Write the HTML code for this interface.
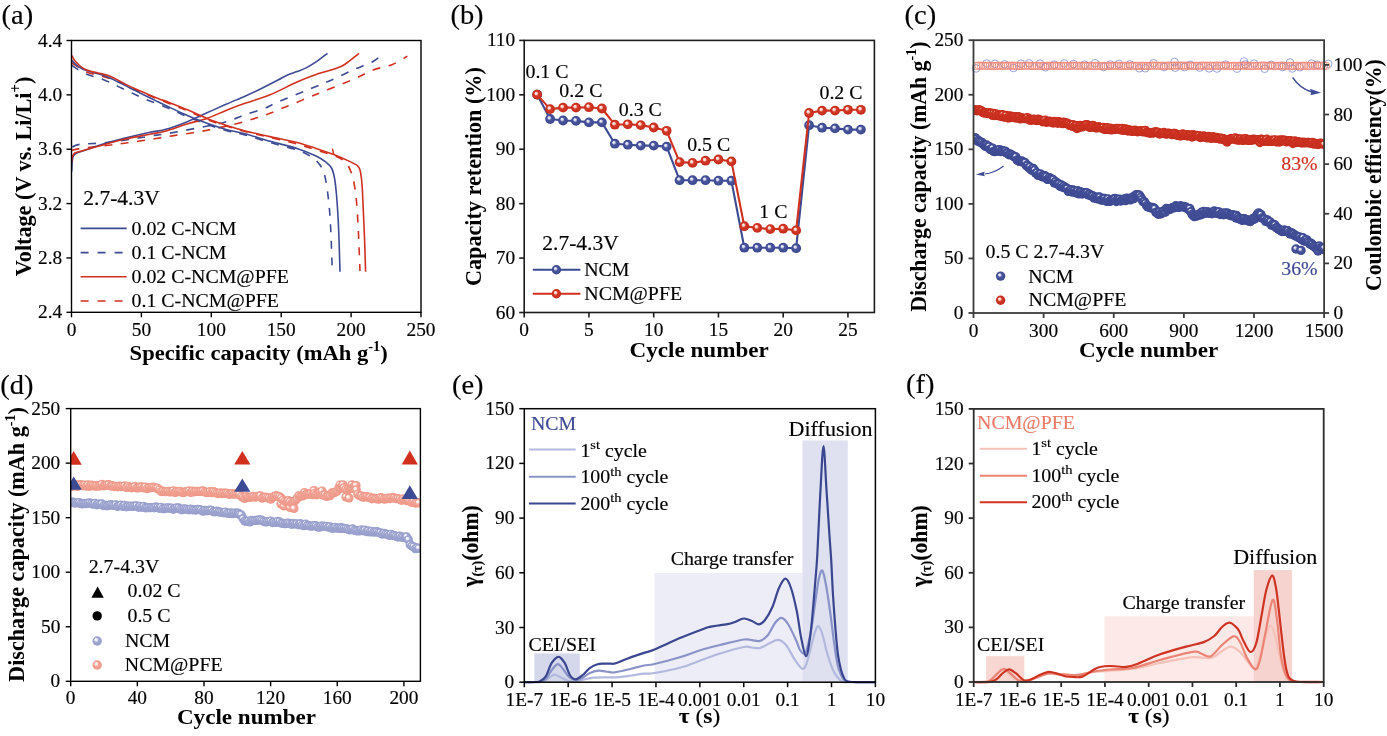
<!DOCTYPE html>
<html><head><meta charset="utf-8"><title>Figure</title>
<style>html,body{margin:0;padding:0;background:#fff;}svg{display:block;}text{font-family:'Liberation Serif','Times New Roman',serif;}</style>
</head><body>
<svg width="1387" height="736" viewBox="0 0 1387 736" font-family="'Liberation Serif','Times New Roman',serif">
<rect width="1387" height="736" fill="#fff"/>
<defs>
<radialGradient id="gb" cx="0.5" cy="0.5" r="0.5" fx="0.36" fy="0.33"><stop offset="0" stop-color="#ffffff"/><stop offset="0.25" stop-color="#c9cde6"/><stop offset="0.45" stop-color="#4a569c"/><stop offset="1" stop-color="#3a4690"/></radialGradient>
<radialGradient id="gr" cx="0.5" cy="0.5" r="0.5" fx="0.36" fy="0.33"><stop offset="0" stop-color="#ffffff"/><stop offset="0.28" stop-color="#f2c4bc"/><stop offset="0.45" stop-color="#d63a28"/><stop offset="1" stop-color="#c42a1a"/></radialGradient>
<radialGradient id="glb" cx="0.5" cy="0.5" r="0.5" fx="0.32" fy="0.3"><stop offset="0" stop-color="#ffffff"/><stop offset="0.3" stop-color="#e4e6f4"/><stop offset="0.5" stop-color="#a2a8d2"/><stop offset="1" stop-color="#969dcb"/></radialGradient>
<radialGradient id="glr" cx="0.5" cy="0.5" r="0.5" fx="0.32" fy="0.3"><stop offset="0" stop-color="#ffffff"/><stop offset="0.3" stop-color="#fbe3df"/><stop offset="0.5" stop-color="#f2a597"/><stop offset="1" stop-color="#ee9686"/></radialGradient>
<marker id="ah" markerWidth="8" markerHeight="8" refX="6" refY="4" orient="auto" markerUnits="userSpaceOnUse"><path d="M0,0.8 L8,4 L0,7.2 L1.5,4 Z" fill="#3d4a94"/></marker>
</defs>
<text transform="translate(1.60 23.80) scale(1.075 1)" font-size="26.5" stroke="#000" stroke-width="0.15" text-anchor="start" fill="#000">(a)</text>
<path d="M72.20,147.00 C73.55,146.55 75.00,145.00 80.30,144.30 C85.60,143.60 95.28,143.68 104.00,142.80 C112.72,141.92 124.93,140.12 132.60,139.00 C140.27,137.88 143.93,137.05 150.00,136.10 C156.07,135.15 161.08,134.65 169.00,133.30 C176.92,131.95 189.58,129.52 197.50,128.00 C205.42,126.48 210.95,125.47 216.50,124.20 C222.05,122.93 226.05,121.98 230.80,120.40 C235.55,118.82 239.47,116.68 245.00,114.70 C250.53,112.72 258.50,110.62 264.00,108.50 C269.50,106.38 269.33,105.67 278.00,102.00 C286.67,98.33 306.50,90.42 316.00,86.50 C325.50,82.58 328.67,81.33 335.00,78.50 C341.33,75.67 347.67,72.33 354.00,69.50 C360.33,66.67 368.07,64.20 373.00,61.50 C377.93,58.80 381.83,54.67 383.60,53.30" fill="none" stroke="#3d4a94" stroke-width="1.6" stroke-dasharray="8 8.5"/>
<path d="M71.70,150.40 C73.13,150.08 74.12,149.37 80.30,148.50 C86.48,147.63 100.88,146.15 108.80,145.20 C116.72,144.25 120.13,143.88 127.80,142.80 C135.47,141.72 147.13,139.90 154.80,138.70 C162.47,137.50 167.47,136.58 173.80,135.60 C180.13,134.62 186.93,133.75 192.80,132.80 C198.67,131.85 203.80,130.93 209.00,129.90 C214.20,128.87 218.78,127.78 224.00,126.60 C229.22,125.42 234.73,124.30 240.30,122.80 C245.87,121.30 252.45,119.18 257.40,117.60 C262.35,116.02 266.57,114.57 270.00,113.30 C273.43,112.03 270.33,113.13 278.00,110.00 C285.67,106.87 303.33,99.67 316.00,94.50 C328.67,89.33 344.50,83.08 354.00,79.00 C363.50,74.92 366.67,72.38 373.00,70.00 C379.33,67.62 386.27,67.00 392.00,64.70 C397.73,62.40 404.83,57.62 407.40,56.20" fill="none" stroke="#d1301f" stroke-width="1.6" stroke-dasharray="8 8.5"/>
<path d="M72.10,65.20 C72.53,65.57 72.27,65.90 74.70,67.40 C77.13,68.90 81.98,72.20 86.70,74.20 C91.42,76.20 97.90,77.42 103.00,79.40 C108.10,81.38 112.55,83.87 117.30,86.10 C122.05,88.33 126.63,90.55 131.50,92.80 C136.37,95.05 140.25,96.98 146.50,99.60 C152.75,102.22 162.08,105.60 169.00,108.50 C175.92,111.40 181.67,114.33 188.00,117.00 C194.33,119.67 200.67,122.25 207.00,124.50 C213.33,126.75 219.67,128.75 226.00,130.50 C232.33,132.25 237.67,133.00 245.00,135.00 C252.33,137.00 261.33,140.00 270.00,142.50 C278.67,145.00 290.33,147.75 297.00,150.00 C303.67,152.25 306.50,153.92 310.00,156.00 C313.50,158.08 315.72,159.83 318.00,162.50 C320.28,165.17 322.20,167.75 323.70,172.00 C325.20,176.25 326.03,181.67 327.00,188.00 C327.97,194.33 328.83,202.17 329.50,210.00 C330.17,217.83 330.53,224.70 331.00,235.00 C331.47,245.30 332.08,265.67 332.30,271.80" fill="none" stroke="#3d4a94" stroke-width="1.6" stroke-dasharray="8 8.5"/>
<path d="M72.10,63.00 C74.53,64.48 81.55,69.67 86.70,71.90 C91.85,74.13 98.02,74.90 103.00,76.40 C107.98,77.90 112.10,79.15 116.60,80.90 C121.10,82.65 125.65,84.92 130.00,86.90 C134.35,88.88 136.20,90.03 142.70,92.80 C149.20,95.57 161.45,100.47 169.00,103.50 C176.55,106.53 181.67,108.33 188.00,111.00 C194.33,113.67 200.67,117.00 207.00,119.50 C213.33,122.00 219.67,124.00 226.00,126.00 C232.33,128.00 237.67,129.58 245.00,131.50 C252.33,133.42 261.33,135.42 270.00,137.50 C278.67,139.58 289.33,141.92 297.00,144.00 C304.67,146.08 309.67,148.00 316.00,150.00 C322.33,152.00 330.42,154.25 335.00,156.00 C339.58,157.75 341.25,158.75 343.50,160.50 C345.75,162.25 346.98,163.80 348.50,166.50 C350.02,169.20 351.43,172.45 352.60,176.70 C353.77,180.95 354.77,186.78 355.50,192.00 C356.23,197.22 356.53,201.67 357.00,208.00 C357.47,214.33 357.97,223.67 358.30,230.00 C358.63,236.33 358.72,239.17 359.00,246.00 C359.28,252.83 359.83,266.83 360.00,271.00" fill="none" stroke="#d1301f" stroke-width="1.6" stroke-dasharray="8 8.5"/>
<path d="M71.70,171.40 C71.77,170.00 71.92,165.32 72.10,163.00 C72.28,160.68 72.40,158.92 72.80,157.50 C73.20,156.08 73.63,155.33 74.50,154.50 C75.37,153.67 76.25,153.20 78.00,152.50 C79.75,151.80 80.67,151.75 85.00,150.30 C89.33,148.85 97.67,145.75 104.00,143.80 C110.33,141.85 115.33,140.52 123.00,138.60 C130.67,136.68 143.00,133.80 150.00,132.30 C157.00,130.80 158.67,131.42 165.00,129.60 C171.33,127.78 181.00,124.20 188.00,121.40 C195.00,118.60 200.67,115.65 207.00,112.80 C213.33,109.95 219.67,107.07 226.00,104.30 C232.33,101.53 239.60,98.58 245.00,96.20 C250.40,93.82 252.90,92.70 258.40,90.00 C263.90,87.30 273.13,82.50 278.00,80.00 C282.87,77.50 284.43,76.40 287.60,75.00 C290.77,73.60 293.83,72.83 297.00,71.60 C300.17,70.37 303.43,69.22 306.60,67.60 C309.77,65.98 312.52,64.28 316.00,61.90 C319.48,59.52 325.58,54.73 327.50,53.30" fill="none" stroke="#3d4a94" stroke-width="1.6"/>
<path d="M71.70,161.90 C71.80,161.08 72.00,158.23 72.30,157.00 C72.60,155.77 72.97,155.20 73.50,154.50 C74.03,153.80 73.58,153.55 75.50,152.80 C77.42,152.05 80.25,151.35 85.00,150.00 C89.75,148.65 97.67,146.45 104.00,144.70 C110.33,142.95 115.33,141.25 123.00,139.50 C130.67,137.75 143.00,135.57 150.00,134.20 C157.00,132.83 158.67,133.05 165.00,131.30 C171.33,129.55 181.00,125.83 188.00,123.70 C195.00,121.57 200.67,120.72 207.00,118.50 C213.33,116.28 219.67,112.93 226.00,110.40 C232.33,107.87 237.67,105.90 245.00,103.30 C252.33,100.70 261.33,98.35 270.00,94.80 C278.67,91.25 289.33,85.38 297.00,82.00 C304.67,78.62 309.67,76.70 316.00,74.50 C322.33,72.30 330.23,70.47 335.00,68.80 C339.77,67.13 340.60,67.08 344.60,64.50 C348.60,61.92 356.60,55.17 359.00,53.30" fill="none" stroke="#d1301f" stroke-width="1.6"/>
<path d="M71.70,60.00 C72.33,60.73 73.62,62.85 75.50,64.40 C77.38,65.95 79.27,67.73 83.00,69.30 C86.73,70.87 93.80,72.50 97.90,73.80 C102.00,75.10 103.87,75.55 107.60,77.10 C111.33,78.65 115.68,80.85 120.30,83.10 C124.92,85.35 130.32,88.12 135.30,90.60 C140.28,93.08 146.42,96.13 150.20,98.00 C153.98,99.87 154.87,100.28 158.00,101.80 C161.13,103.32 164.00,104.78 169.00,107.10 C174.00,109.42 181.67,113.00 188.00,115.70 C194.33,118.40 200.67,121.02 207.00,123.30 C213.33,125.58 219.67,127.67 226.00,129.40 C232.33,131.13 237.67,131.72 245.00,133.70 C252.33,135.68 261.33,138.85 270.00,141.30 C278.67,143.75 289.33,145.95 297.00,148.40 C304.67,150.85 311.23,153.77 316.00,156.00 C320.77,158.23 323.02,159.80 325.60,161.80 C328.18,163.80 330.02,165.30 331.50,168.00 C332.98,170.70 333.67,173.50 334.50,178.00 C335.33,182.50 335.88,188.00 336.50,195.00 C337.12,202.00 337.75,211.67 338.20,220.00 C338.65,228.33 338.90,236.37 339.20,245.00 C339.50,253.63 339.87,267.33 340.00,271.80" fill="none" stroke="#3d4a94" stroke-width="1.6"/>
<path d="M71.70,55.50 C72.33,56.50 73.62,59.38 75.50,61.50 C77.38,63.62 80.52,66.58 83.00,68.20 C85.48,69.82 87.92,70.40 90.40,71.20 C92.88,72.00 95.03,72.32 97.90,73.00 C100.77,73.68 104.48,74.23 107.60,75.30 C110.72,76.37 113.23,77.72 116.60,79.40 C119.97,81.08 123.45,83.28 127.80,85.40 C132.15,87.52 137.67,89.92 142.70,92.10 C147.73,94.28 153.62,96.78 158.00,98.50 C162.38,100.22 164.00,100.48 169.00,102.40 C174.00,104.32 181.67,107.32 188.00,110.00 C194.33,112.68 200.67,115.97 207.00,118.50 C213.33,121.03 219.67,123.13 226.00,125.20 C232.33,127.27 237.67,129.00 245.00,130.90 C252.33,132.80 261.33,134.67 270.00,136.60 C278.67,138.53 289.33,140.53 297.00,142.50 C304.67,144.47 309.67,146.32 316.00,148.40 C322.33,150.48 329.33,152.80 335.00,155.00 C340.67,157.20 346.23,159.80 350.00,161.60 C353.77,163.40 355.93,164.40 357.60,165.80 C359.27,167.20 359.37,167.97 360.00,170.00 C360.63,172.03 361.00,174.67 361.40,178.00 C361.80,181.33 362.05,183.83 362.40,190.00 C362.75,196.17 363.13,206.67 363.50,215.00 C363.87,223.33 364.25,230.53 364.60,240.00 C364.95,249.47 365.43,266.50 365.60,271.80" fill="none" stroke="#d1301f" stroke-width="1.6"/>
<path d="M332.4,148.6 L333.6,154" stroke="#d1301f" stroke-width="1.4"/>
<rect x="71.50" y="40.50" width="349.50" height="271.80" fill="none" stroke="#000" stroke-width="1.4"/>
<line x1="71.50" y1="312.30" x2="71.50" y2="317.30" stroke="#000" stroke-width="1.4"/>
<text transform="translate(71.50 335.80) scale(1.075 1)" font-size="18" stroke="#000" stroke-width="0.15" text-anchor="middle" fill="#000">0</text>
<line x1="141.40" y1="312.30" x2="141.40" y2="317.30" stroke="#000" stroke-width="1.4"/>
<text transform="translate(141.40 335.80) scale(1.075 1)" font-size="18" stroke="#000" stroke-width="0.15" text-anchor="middle" fill="#000">50</text>
<line x1="211.30" y1="312.30" x2="211.30" y2="317.30" stroke="#000" stroke-width="1.4"/>
<text transform="translate(211.30 335.80) scale(1.075 1)" font-size="18" stroke="#000" stroke-width="0.15" text-anchor="middle" fill="#000">100</text>
<line x1="281.20" y1="312.30" x2="281.20" y2="317.30" stroke="#000" stroke-width="1.4"/>
<text transform="translate(281.20 335.80) scale(1.075 1)" font-size="18" stroke="#000" stroke-width="0.15" text-anchor="middle" fill="#000">150</text>
<line x1="351.10" y1="312.30" x2="351.10" y2="317.30" stroke="#000" stroke-width="1.4"/>
<text transform="translate(351.10 335.80) scale(1.075 1)" font-size="18" stroke="#000" stroke-width="0.15" text-anchor="middle" fill="#000">200</text>
<line x1="421.00" y1="312.30" x2="421.00" y2="317.30" stroke="#000" stroke-width="1.4"/>
<text transform="translate(421.00 335.80) scale(1.075 1)" font-size="18" stroke="#000" stroke-width="0.15" text-anchor="middle" fill="#000">250</text>
<line x1="66.50" y1="40.50" x2="71.50" y2="40.50" stroke="#000" stroke-width="1.4"/>
<text transform="translate(62.20 46.50) scale(1.075 1)" font-size="18" stroke="#000" stroke-width="0.15" text-anchor="end" fill="#000">4.4</text>
<line x1="66.50" y1="94.86" x2="71.50" y2="94.86" stroke="#000" stroke-width="1.4"/>
<text transform="translate(62.20 100.86) scale(1.075 1)" font-size="18" stroke="#000" stroke-width="0.15" text-anchor="end" fill="#000">4.0</text>
<line x1="66.50" y1="149.22" x2="71.50" y2="149.22" stroke="#000" stroke-width="1.4"/>
<text transform="translate(62.20 155.22) scale(1.075 1)" font-size="18" stroke="#000" stroke-width="0.15" text-anchor="end" fill="#000">3.6</text>
<line x1="66.50" y1="203.58" x2="71.50" y2="203.58" stroke="#000" stroke-width="1.4"/>
<text transform="translate(62.20 209.58) scale(1.075 1)" font-size="18" stroke="#000" stroke-width="0.15" text-anchor="end" fill="#000">3.2</text>
<line x1="66.50" y1="257.94" x2="71.50" y2="257.94" stroke="#000" stroke-width="1.4"/>
<text transform="translate(62.20 263.94) scale(1.075 1)" font-size="18" stroke="#000" stroke-width="0.15" text-anchor="end" fill="#000">2.8</text>
<line x1="66.50" y1="312.30" x2="71.50" y2="312.30" stroke="#000" stroke-width="1.4"/>
<text transform="translate(62.20 318.30) scale(1.075 1)" font-size="18" stroke="#000" stroke-width="0.15" text-anchor="end" fill="#000">2.4</text>
<text transform="translate(258.70 359.60) scale(1.035 1)" font-size="21.8" font-weight="bold" text-anchor="middle" fill="#000">Specific capacity (mAh g<tspan font-size="14" dy="-9">-1</tspan><tspan dy="9">)</tspan></text>
<text transform="translate(30.80 176.40) scale(1.06 1) rotate(-90)" font-size="22.2" font-weight="bold" text-anchor="middle" fill="#000">Voltage (V vs. Li/Li<tspan font-size="15" dy="-9">+</tspan><tspan dy="9">)</tspan></text>
<text transform="translate(121.50 205.00) scale(1.075 1)" font-size="20" stroke="#000" stroke-width="0.15" text-anchor="middle" fill="#000">2.7-4.3V</text>
<line x1="80.6" y1="228.4" x2="126.7" y2="228.4" stroke="#3d4a94" stroke-width="1.6"/>
<text transform="translate(131.50 234.60) scale(1.075 1)" font-size="18.5" stroke="#000" stroke-width="0.15" text-anchor="start" fill="#000">0.02 C-NCM</text>
<line x1="80.6" y1="252.6" x2="126.7" y2="252.6" stroke="#3d4a94" stroke-width="1.6" stroke-dasharray="8 9"/>
<text transform="translate(131.50 258.80) scale(1.075 1)" font-size="18.5" stroke="#000" stroke-width="0.15" text-anchor="start" fill="#000">0.1 C-NCM</text>
<line x1="80.6" y1="276.8" x2="126.7" y2="276.8" stroke="#d1301f" stroke-width="1.6"/>
<text transform="translate(131.50 283.00) scale(1.075 1)" font-size="18.5" stroke="#000" stroke-width="0.15" text-anchor="start" fill="#000">0.02 C-NCM@PFE</text>
<line x1="80.6" y1="301.0" x2="126.7" y2="301.0" stroke="#d1301f" stroke-width="1.6" stroke-dasharray="8 9"/>
<text transform="translate(131.50 307.20) scale(1.075 1)" font-size="18.5" stroke="#000" stroke-width="0.15" text-anchor="start" fill="#000">0.1 C-NCM@PFE</text>
<text transform="translate(450.40 23.80) scale(1.075 1)" font-size="26.5" stroke="#000" stroke-width="0.15" text-anchor="start" fill="#000">(b)</text>
<path d="M537.15,94.60 L550.10,119.00 L563.05,120.50 L576.00,120.90 L588.95,122.40 L601.90,122.40 L614.85,143.70 L627.80,144.70 L640.75,145.60 L653.70,145.60 L666.65,146.60 L679.60,180.20 L692.55,180.20 L705.50,180.20 L718.45,180.70 L731.40,180.70 L744.35,247.70 L757.30,247.70 L770.25,247.70 L783.20,247.70 L796.15,248.20 L809.10,125.20 L822.05,127.70 L835.00,128.40 L847.95,129.60 L860.90,129.60" fill="none" stroke="#3d4a94" stroke-width="2.1" stroke-linejoin="round"/>
<circle cx="537.15" cy="94.60" r="4.9" fill="url(#gb)"/>
<circle cx="550.10" cy="119.00" r="4.9" fill="url(#gb)"/>
<circle cx="563.05" cy="120.50" r="4.9" fill="url(#gb)"/>
<circle cx="576.00" cy="120.90" r="4.9" fill="url(#gb)"/>
<circle cx="588.95" cy="122.40" r="4.9" fill="url(#gb)"/>
<circle cx="601.90" cy="122.40" r="4.9" fill="url(#gb)"/>
<circle cx="614.85" cy="143.70" r="4.9" fill="url(#gb)"/>
<circle cx="627.80" cy="144.70" r="4.9" fill="url(#gb)"/>
<circle cx="640.75" cy="145.60" r="4.9" fill="url(#gb)"/>
<circle cx="653.70" cy="145.60" r="4.9" fill="url(#gb)"/>
<circle cx="666.65" cy="146.60" r="4.9" fill="url(#gb)"/>
<circle cx="679.60" cy="180.20" r="4.9" fill="url(#gb)"/>
<circle cx="692.55" cy="180.20" r="4.9" fill="url(#gb)"/>
<circle cx="705.50" cy="180.20" r="4.9" fill="url(#gb)"/>
<circle cx="718.45" cy="180.70" r="4.9" fill="url(#gb)"/>
<circle cx="731.40" cy="180.70" r="4.9" fill="url(#gb)"/>
<circle cx="744.35" cy="247.70" r="4.9" fill="url(#gb)"/>
<circle cx="757.30" cy="247.70" r="4.9" fill="url(#gb)"/>
<circle cx="770.25" cy="247.70" r="4.9" fill="url(#gb)"/>
<circle cx="783.20" cy="247.70" r="4.9" fill="url(#gb)"/>
<circle cx="796.15" cy="248.20" r="4.9" fill="url(#gb)"/>
<circle cx="809.10" cy="125.20" r="4.9" fill="url(#gb)"/>
<circle cx="822.05" cy="127.70" r="4.9" fill="url(#gb)"/>
<circle cx="835.00" cy="128.40" r="4.9" fill="url(#gb)"/>
<circle cx="847.95" cy="129.60" r="4.9" fill="url(#gb)"/>
<circle cx="860.90" cy="129.60" r="4.9" fill="url(#gb)"/>
<path d="M537.15,94.60 L550.10,109.10 L563.05,107.60 L576.00,107.60 L588.95,107.20 L601.90,108.50 L614.85,124.70 L627.80,124.30 L640.75,125.10 L653.70,127.50 L666.65,130.80 L679.60,162.10 L692.55,162.90 L705.50,160.70 L718.45,159.50 L731.40,161.40 L744.35,226.20 L757.30,227.90 L770.25,229.10 L783.20,228.70 L796.15,230.40 L809.10,113.00 L822.05,110.60 L835.00,110.60 L847.95,109.80 L860.90,109.80" fill="none" stroke="#d1301f" stroke-width="2.1" stroke-linejoin="round"/>
<circle cx="537.15" cy="94.60" r="4.9" fill="url(#gr)"/>
<circle cx="550.10" cy="109.10" r="4.9" fill="url(#gr)"/>
<circle cx="563.05" cy="107.60" r="4.9" fill="url(#gr)"/>
<circle cx="576.00" cy="107.60" r="4.9" fill="url(#gr)"/>
<circle cx="588.95" cy="107.20" r="4.9" fill="url(#gr)"/>
<circle cx="601.90" cy="108.50" r="4.9" fill="url(#gr)"/>
<circle cx="614.85" cy="124.70" r="4.9" fill="url(#gr)"/>
<circle cx="627.80" cy="124.30" r="4.9" fill="url(#gr)"/>
<circle cx="640.75" cy="125.10" r="4.9" fill="url(#gr)"/>
<circle cx="653.70" cy="127.50" r="4.9" fill="url(#gr)"/>
<circle cx="666.65" cy="130.80" r="4.9" fill="url(#gr)"/>
<circle cx="679.60" cy="162.10" r="4.9" fill="url(#gr)"/>
<circle cx="692.55" cy="162.90" r="4.9" fill="url(#gr)"/>
<circle cx="705.50" cy="160.70" r="4.9" fill="url(#gr)"/>
<circle cx="718.45" cy="159.50" r="4.9" fill="url(#gr)"/>
<circle cx="731.40" cy="161.40" r="4.9" fill="url(#gr)"/>
<circle cx="744.35" cy="226.20" r="4.9" fill="url(#gr)"/>
<circle cx="757.30" cy="227.90" r="4.9" fill="url(#gr)"/>
<circle cx="770.25" cy="229.10" r="4.9" fill="url(#gr)"/>
<circle cx="783.20" cy="228.70" r="4.9" fill="url(#gr)"/>
<circle cx="796.15" cy="230.40" r="4.9" fill="url(#gr)"/>
<circle cx="809.10" cy="113.00" r="4.9" fill="url(#gr)"/>
<circle cx="822.05" cy="110.60" r="4.9" fill="url(#gr)"/>
<circle cx="835.00" cy="110.60" r="4.9" fill="url(#gr)"/>
<circle cx="847.95" cy="109.80" r="4.9" fill="url(#gr)"/>
<circle cx="860.90" cy="109.80" r="4.9" fill="url(#gr)"/>
<rect x="524.20" y="40.40" width="350.20" height="272.10" fill="none" stroke="#1c1c1c" stroke-width="1.6"/>
<line x1="524.20" y1="312.50" x2="524.20" y2="317.50" stroke="#1c1c1c" stroke-width="1.6"/>
<text transform="translate(524.20 335.80) scale(1.075 1)" font-size="18" stroke="#000" stroke-width="0.15" text-anchor="middle" fill="#000">0</text>
<line x1="588.95" y1="312.50" x2="588.95" y2="317.50" stroke="#1c1c1c" stroke-width="1.6"/>
<text transform="translate(588.95 335.80) scale(1.075 1)" font-size="18" stroke="#000" stroke-width="0.15" text-anchor="middle" fill="#000">5</text>
<line x1="653.70" y1="312.50" x2="653.70" y2="317.50" stroke="#1c1c1c" stroke-width="1.6"/>
<text transform="translate(653.70 335.80) scale(1.075 1)" font-size="18" stroke="#000" stroke-width="0.15" text-anchor="middle" fill="#000">10</text>
<line x1="718.45" y1="312.50" x2="718.45" y2="317.50" stroke="#1c1c1c" stroke-width="1.6"/>
<text transform="translate(718.45 335.80) scale(1.075 1)" font-size="18" stroke="#000" stroke-width="0.15" text-anchor="middle" fill="#000">15</text>
<line x1="783.20" y1="312.50" x2="783.20" y2="317.50" stroke="#1c1c1c" stroke-width="1.6"/>
<text transform="translate(783.20 335.80) scale(1.075 1)" font-size="18" stroke="#000" stroke-width="0.15" text-anchor="middle" fill="#000">20</text>
<line x1="847.95" y1="312.50" x2="847.95" y2="317.50" stroke="#1c1c1c" stroke-width="1.6"/>
<text transform="translate(847.95 335.80) scale(1.075 1)" font-size="18" stroke="#000" stroke-width="0.15" text-anchor="middle" fill="#000">25</text>
<line x1="519.20" y1="40.40" x2="524.20" y2="40.40" stroke="#1c1c1c" stroke-width="1.6"/>
<text transform="translate(515.20 46.40) scale(1.075 1)" font-size="18" stroke="#000" stroke-width="0.15" text-anchor="end" fill="#000">110</text>
<line x1="519.20" y1="94.82" x2="524.20" y2="94.82" stroke="#1c1c1c" stroke-width="1.6"/>
<text transform="translate(515.20 100.82) scale(1.075 1)" font-size="18" stroke="#000" stroke-width="0.15" text-anchor="end" fill="#000">100</text>
<line x1="519.20" y1="149.24" x2="524.20" y2="149.24" stroke="#1c1c1c" stroke-width="1.6"/>
<text transform="translate(515.20 155.24) scale(1.075 1)" font-size="18" stroke="#000" stroke-width="0.15" text-anchor="end" fill="#000">90</text>
<line x1="519.20" y1="203.66" x2="524.20" y2="203.66" stroke="#1c1c1c" stroke-width="1.6"/>
<text transform="translate(515.20 209.66) scale(1.075 1)" font-size="18" stroke="#000" stroke-width="0.15" text-anchor="end" fill="#000">80</text>
<line x1="519.20" y1="258.08" x2="524.20" y2="258.08" stroke="#1c1c1c" stroke-width="1.6"/>
<text transform="translate(515.20 264.08) scale(1.075 1)" font-size="18" stroke="#000" stroke-width="0.15" text-anchor="end" fill="#000">70</text>
<line x1="519.20" y1="312.50" x2="524.20" y2="312.50" stroke="#1c1c1c" stroke-width="1.6"/>
<text transform="translate(515.20 318.50) scale(1.075 1)" font-size="18" stroke="#000" stroke-width="0.15" text-anchor="end" fill="#000">60</text>
<text transform="translate(699.20 357.00) scale(1.06 1)" font-size="21.8" font-weight="bold" text-anchor="middle" fill="#000">Cycle number</text>
<text transform="translate(481.00 176.60) scale(1.06 1) rotate(-90)" font-size="22.2" font-weight="bold" text-anchor="middle" fill="#000">Capacity retention (%)</text>
<text transform="translate(547.00 77.50) scale(1.075 1)" font-size="18.5" stroke="#000" stroke-width="0.15" text-anchor="middle" fill="#000">0.1 C</text>
<text transform="translate(580.90 96.50) scale(1.075 1)" font-size="18.5" stroke="#000" stroke-width="0.15" text-anchor="middle" fill="#000">0.2 C</text>
<text transform="translate(640.30 116.10) scale(1.075 1)" font-size="18.5" stroke="#000" stroke-width="0.15" text-anchor="middle" fill="#000">0.3 C</text>
<text transform="translate(708.70 150.90) scale(1.075 1)" font-size="18.5" stroke="#000" stroke-width="0.15" text-anchor="middle" fill="#000">0.5 C</text>
<text transform="translate(773.30 217.70) scale(1.075 1)" font-size="18.5" stroke="#000" stroke-width="0.15" text-anchor="middle" fill="#000">1 C</text>
<text transform="translate(841.00 99.10) scale(1.075 1)" font-size="18.5" stroke="#000" stroke-width="0.15" text-anchor="middle" fill="#000">0.2 C</text>
<text transform="translate(580.50 249.70) scale(1.075 1)" font-size="20" stroke="#000" stroke-width="0.15" text-anchor="middle" fill="#000">2.7-4.3V</text>
<line x1="532.8" y1="269.8" x2="580.4" y2="269.8" stroke="#3d4a94" stroke-width="1.9"/>
<circle cx="556.40" cy="269.80" r="4.7" fill="url(#gb)"/>
<text transform="translate(606.80 275.80) scale(1.075 1)" font-size="18.5" stroke="#000" stroke-width="0.15" text-anchor="middle" fill="#000">NCM</text>
<line x1="532.8" y1="293.8" x2="580.4" y2="293.8" stroke="#d1301f" stroke-width="1.9"/>
<circle cx="556.40" cy="293.80" r="4.7" fill="url(#gr)"/>
<text transform="translate(633.20 299.80) scale(1.075 1)" font-size="18.5" stroke="#000" stroke-width="0.15" text-anchor="middle" fill="#000">NCM@PFE</text>
<text transform="translate(904.60 23.80) scale(1.075 1)" font-size="26.5" stroke="#000" stroke-width="0.15" text-anchor="start" fill="#000">(c)</text>
<clipPath id="cpc"><rect x="973.5" y="40.2" width="350.5999999999999" height="272.8"/></clipPath>
<circle cx="976.11" cy="68.43" r="3.8" fill="none" stroke="#6f80cc" stroke-width="0.7"/>
<circle cx="986.73" cy="63.49" r="3.8" fill="none" stroke="#6f80cc" stroke-width="0.7"/>
<circle cx="994.91" cy="63.83" r="3.8" fill="none" stroke="#6f80cc" stroke-width="0.7"/>
<circle cx="1004.55" cy="64.33" r="3.8" fill="none" stroke="#6f80cc" stroke-width="0.7"/>
<circle cx="1013.40" cy="67.98" r="3.8" fill="none" stroke="#6f80cc" stroke-width="0.7"/>
<circle cx="1020.95" cy="63.68" r="3.8" fill="none" stroke="#6f80cc" stroke-width="0.7"/>
<circle cx="1029.13" cy="63.35" r="3.8" fill="none" stroke="#6f80cc" stroke-width="0.7"/>
<circle cx="1039.94" cy="63.63" r="3.8" fill="none" stroke="#6f80cc" stroke-width="0.7"/>
<circle cx="1045.48" cy="67.23" r="3.8" fill="none" stroke="#6f80cc" stroke-width="0.7"/>
<circle cx="1054.15" cy="64.62" r="3.8" fill="none" stroke="#6f80cc" stroke-width="0.7"/>
<circle cx="1064.23" cy="63.43" r="3.8" fill="none" stroke="#6f80cc" stroke-width="0.7"/>
<circle cx="1073.62" cy="64.03" r="3.8" fill="none" stroke="#6f80cc" stroke-width="0.7"/>
<circle cx="1084.57" cy="64.67" r="3.8" fill="none" stroke="#6f80cc" stroke-width="0.7"/>
<circle cx="1095.04" cy="63.26" r="3.8" fill="none" stroke="#6f80cc" stroke-width="0.7"/>
<circle cx="1103.68" cy="67.04" r="3.8" fill="none" stroke="#6f80cc" stroke-width="0.7"/>
<circle cx="1110.31" cy="64.53" r="3.8" fill="none" stroke="#6f80cc" stroke-width="0.7"/>
<circle cx="1118.91" cy="63.93" r="3.8" fill="none" stroke="#6f80cc" stroke-width="0.7"/>
<circle cx="1129.80" cy="64.44" r="3.8" fill="none" stroke="#6f80cc" stroke-width="0.7"/>
<circle cx="1139.37" cy="68.25" r="3.8" fill="none" stroke="#6f80cc" stroke-width="0.7"/>
<circle cx="1145.22" cy="68.27" r="3.8" fill="none" stroke="#6f80cc" stroke-width="0.7"/>
<circle cx="1153.59" cy="63.29" r="3.8" fill="none" stroke="#6f80cc" stroke-width="0.7"/>
<circle cx="1164.11" cy="67.03" r="3.8" fill="none" stroke="#6f80cc" stroke-width="0.7"/>
<circle cx="1175.28" cy="67.68" r="3.8" fill="none" stroke="#6f80cc" stroke-width="0.7"/>
<circle cx="1184.56" cy="67.08" r="3.8" fill="none" stroke="#6f80cc" stroke-width="0.7"/>
<circle cx="1190.27" cy="64.79" r="3.8" fill="none" stroke="#6f80cc" stroke-width="0.7"/>
<circle cx="1199.62" cy="67.62" r="3.8" fill="none" stroke="#6f80cc" stroke-width="0.7"/>
<circle cx="1209.17" cy="68.40" r="3.8" fill="none" stroke="#6f80cc" stroke-width="0.7"/>
<circle cx="1216.96" cy="68.55" r="3.8" fill="none" stroke="#6f80cc" stroke-width="0.7"/>
<circle cx="1225.61" cy="64.62" r="3.8" fill="none" stroke="#6f80cc" stroke-width="0.7"/>
<circle cx="1237.01" cy="68.65" r="3.8" fill="none" stroke="#6f80cc" stroke-width="0.7"/>
<circle cx="1245.16" cy="64.44" r="3.8" fill="none" stroke="#6f80cc" stroke-width="0.7"/>
<circle cx="1254.06" cy="63.56" r="3.8" fill="none" stroke="#6f80cc" stroke-width="0.7"/>
<circle cx="1264.63" cy="68.79" r="3.8" fill="none" stroke="#6f80cc" stroke-width="0.7"/>
<circle cx="1271.32" cy="64.85" r="3.8" fill="none" stroke="#6f80cc" stroke-width="0.7"/>
<circle cx="1282.53" cy="67.06" r="3.8" fill="none" stroke="#6f80cc" stroke-width="0.7"/>
<circle cx="1292.24" cy="68.49" r="3.8" fill="none" stroke="#6f80cc" stroke-width="0.7"/>
<circle cx="1299.83" cy="67.26" r="3.8" fill="none" stroke="#6f80cc" stroke-width="0.7"/>
<circle cx="1311.46" cy="63.56" r="3.8" fill="none" stroke="#6f80cc" stroke-width="0.7"/>
<circle cx="1317.26" cy="64.76" r="3.8" fill="none" stroke="#6f80cc" stroke-width="0.7"/>
<circle cx="1328.26" cy="63.87" r="3.8" fill="none" stroke="#6f80cc" stroke-width="0.7"/>
<circle cx="1174.50" cy="62.00" r="3.8" fill="none" stroke="#6f80cc" stroke-width="0.7"/>
<circle cx="1290.00" cy="62.50" r="3.8" fill="none" stroke="#6f80cc" stroke-width="0.7"/>
<circle cx="1244.00" cy="61.50" r="3.8" fill="none" stroke="#6f80cc" stroke-width="0.7"/>
<circle cx="976.50" cy="65.94" r="3.75" fill="none" stroke="#ee7b6a" stroke-width="0.7"/>
<circle cx="978.73" cy="65.60" r="3.75" fill="none" stroke="#ee7b6a" stroke-width="0.7"/>
<circle cx="980.95" cy="65.77" r="3.75" fill="none" stroke="#ee7b6a" stroke-width="0.7"/>
<circle cx="983.18" cy="65.62" r="3.75" fill="none" stroke="#ee7b6a" stroke-width="0.7"/>
<circle cx="985.41" cy="65.97" r="3.75" fill="none" stroke="#ee7b6a" stroke-width="0.7"/>
<circle cx="987.63" cy="65.70" r="3.75" fill="none" stroke="#ee7b6a" stroke-width="0.7"/>
<circle cx="989.86" cy="65.78" r="3.75" fill="none" stroke="#ee7b6a" stroke-width="0.7"/>
<circle cx="992.09" cy="66.05" r="3.75" fill="none" stroke="#ee7b6a" stroke-width="0.7"/>
<circle cx="994.31" cy="65.98" r="3.75" fill="none" stroke="#ee7b6a" stroke-width="0.7"/>
<circle cx="996.54" cy="66.04" r="3.75" fill="none" stroke="#ee7b6a" stroke-width="0.7"/>
<circle cx="998.77" cy="65.78" r="3.75" fill="none" stroke="#ee7b6a" stroke-width="0.7"/>
<circle cx="1000.99" cy="65.79" r="3.75" fill="none" stroke="#ee7b6a" stroke-width="0.7"/>
<circle cx="1003.22" cy="65.91" r="3.75" fill="none" stroke="#ee7b6a" stroke-width="0.7"/>
<circle cx="1005.45" cy="65.79" r="3.75" fill="none" stroke="#ee7b6a" stroke-width="0.7"/>
<circle cx="1007.67" cy="65.70" r="3.75" fill="none" stroke="#ee7b6a" stroke-width="0.7"/>
<circle cx="1009.90" cy="65.75" r="3.75" fill="none" stroke="#ee7b6a" stroke-width="0.7"/>
<circle cx="1012.13" cy="65.62" r="3.75" fill="none" stroke="#ee7b6a" stroke-width="0.7"/>
<circle cx="1014.35" cy="65.74" r="3.75" fill="none" stroke="#ee7b6a" stroke-width="0.7"/>
<circle cx="1016.58" cy="66.04" r="3.75" fill="none" stroke="#ee7b6a" stroke-width="0.7"/>
<circle cx="1018.81" cy="66.03" r="3.75" fill="none" stroke="#ee7b6a" stroke-width="0.7"/>
<circle cx="1021.04" cy="65.86" r="3.75" fill="none" stroke="#ee7b6a" stroke-width="0.7"/>
<circle cx="1023.26" cy="65.80" r="3.75" fill="none" stroke="#ee7b6a" stroke-width="0.7"/>
<circle cx="1025.49" cy="65.72" r="3.75" fill="none" stroke="#ee7b6a" stroke-width="0.7"/>
<circle cx="1027.72" cy="65.59" r="3.75" fill="none" stroke="#ee7b6a" stroke-width="0.7"/>
<circle cx="1029.94" cy="65.69" r="3.75" fill="none" stroke="#ee7b6a" stroke-width="0.7"/>
<circle cx="1032.17" cy="65.94" r="3.75" fill="none" stroke="#ee7b6a" stroke-width="0.7"/>
<circle cx="1034.40" cy="65.98" r="3.75" fill="none" stroke="#ee7b6a" stroke-width="0.7"/>
<circle cx="1036.62" cy="65.73" r="3.75" fill="none" stroke="#ee7b6a" stroke-width="0.7"/>
<circle cx="1038.85" cy="65.94" r="3.75" fill="none" stroke="#ee7b6a" stroke-width="0.7"/>
<circle cx="1041.08" cy="65.94" r="3.75" fill="none" stroke="#ee7b6a" stroke-width="0.7"/>
<circle cx="1043.30" cy="65.90" r="3.75" fill="none" stroke="#ee7b6a" stroke-width="0.7"/>
<circle cx="1045.53" cy="65.88" r="3.75" fill="none" stroke="#ee7b6a" stroke-width="0.7"/>
<circle cx="1047.76" cy="65.93" r="3.75" fill="none" stroke="#ee7b6a" stroke-width="0.7"/>
<circle cx="1049.98" cy="65.73" r="3.75" fill="none" stroke="#ee7b6a" stroke-width="0.7"/>
<circle cx="1052.21" cy="65.90" r="3.75" fill="none" stroke="#ee7b6a" stroke-width="0.7"/>
<circle cx="1054.44" cy="65.69" r="3.75" fill="none" stroke="#ee7b6a" stroke-width="0.7"/>
<circle cx="1056.66" cy="65.79" r="3.75" fill="none" stroke="#ee7b6a" stroke-width="0.7"/>
<circle cx="1058.89" cy="65.93" r="3.75" fill="none" stroke="#ee7b6a" stroke-width="0.7"/>
<circle cx="1061.12" cy="65.90" r="3.75" fill="none" stroke="#ee7b6a" stroke-width="0.7"/>
<circle cx="1063.34" cy="65.70" r="3.75" fill="none" stroke="#ee7b6a" stroke-width="0.7"/>
<circle cx="1065.57" cy="66.02" r="3.75" fill="none" stroke="#ee7b6a" stroke-width="0.7"/>
<circle cx="1067.80" cy="65.87" r="3.75" fill="none" stroke="#ee7b6a" stroke-width="0.7"/>
<circle cx="1070.02" cy="65.84" r="3.75" fill="none" stroke="#ee7b6a" stroke-width="0.7"/>
<circle cx="1072.25" cy="65.56" r="3.75" fill="none" stroke="#ee7b6a" stroke-width="0.7"/>
<circle cx="1074.48" cy="65.82" r="3.75" fill="none" stroke="#ee7b6a" stroke-width="0.7"/>
<circle cx="1076.70" cy="65.68" r="3.75" fill="none" stroke="#ee7b6a" stroke-width="0.7"/>
<circle cx="1078.93" cy="65.89" r="3.75" fill="none" stroke="#ee7b6a" stroke-width="0.7"/>
<circle cx="1081.16" cy="65.78" r="3.75" fill="none" stroke="#ee7b6a" stroke-width="0.7"/>
<circle cx="1083.38" cy="65.96" r="3.75" fill="none" stroke="#ee7b6a" stroke-width="0.7"/>
<circle cx="1085.61" cy="65.87" r="3.75" fill="none" stroke="#ee7b6a" stroke-width="0.7"/>
<circle cx="1087.84" cy="65.95" r="3.75" fill="none" stroke="#ee7b6a" stroke-width="0.7"/>
<circle cx="1090.06" cy="65.72" r="3.75" fill="none" stroke="#ee7b6a" stroke-width="0.7"/>
<circle cx="1092.29" cy="65.87" r="3.75" fill="none" stroke="#ee7b6a" stroke-width="0.7"/>
<circle cx="1094.52" cy="65.92" r="3.75" fill="none" stroke="#ee7b6a" stroke-width="0.7"/>
<circle cx="1096.74" cy="65.96" r="3.75" fill="none" stroke="#ee7b6a" stroke-width="0.7"/>
<circle cx="1098.97" cy="65.73" r="3.75" fill="none" stroke="#ee7b6a" stroke-width="0.7"/>
<circle cx="1101.20" cy="65.97" r="3.75" fill="none" stroke="#ee7b6a" stroke-width="0.7"/>
<circle cx="1103.42" cy="65.98" r="3.75" fill="none" stroke="#ee7b6a" stroke-width="0.7"/>
<circle cx="1105.65" cy="65.89" r="3.75" fill="none" stroke="#ee7b6a" stroke-width="0.7"/>
<circle cx="1107.88" cy="66.04" r="3.75" fill="none" stroke="#ee7b6a" stroke-width="0.7"/>
<circle cx="1110.11" cy="66.03" r="3.75" fill="none" stroke="#ee7b6a" stroke-width="0.7"/>
<circle cx="1112.33" cy="65.81" r="3.75" fill="none" stroke="#ee7b6a" stroke-width="0.7"/>
<circle cx="1114.56" cy="65.81" r="3.75" fill="none" stroke="#ee7b6a" stroke-width="0.7"/>
<circle cx="1116.79" cy="65.63" r="3.75" fill="none" stroke="#ee7b6a" stroke-width="0.7"/>
<circle cx="1119.01" cy="65.97" r="3.75" fill="none" stroke="#ee7b6a" stroke-width="0.7"/>
<circle cx="1121.24" cy="66.02" r="3.75" fill="none" stroke="#ee7b6a" stroke-width="0.7"/>
<circle cx="1123.47" cy="65.79" r="3.75" fill="none" stroke="#ee7b6a" stroke-width="0.7"/>
<circle cx="1125.69" cy="65.90" r="3.75" fill="none" stroke="#ee7b6a" stroke-width="0.7"/>
<circle cx="1127.92" cy="65.91" r="3.75" fill="none" stroke="#ee7b6a" stroke-width="0.7"/>
<circle cx="1130.15" cy="65.92" r="3.75" fill="none" stroke="#ee7b6a" stroke-width="0.7"/>
<circle cx="1132.37" cy="65.64" r="3.75" fill="none" stroke="#ee7b6a" stroke-width="0.7"/>
<circle cx="1134.60" cy="65.94" r="3.75" fill="none" stroke="#ee7b6a" stroke-width="0.7"/>
<circle cx="1136.83" cy="65.84" r="3.75" fill="none" stroke="#ee7b6a" stroke-width="0.7"/>
<circle cx="1139.05" cy="65.88" r="3.75" fill="none" stroke="#ee7b6a" stroke-width="0.7"/>
<circle cx="1141.28" cy="65.76" r="3.75" fill="none" stroke="#ee7b6a" stroke-width="0.7"/>
<circle cx="1143.51" cy="65.86" r="3.75" fill="none" stroke="#ee7b6a" stroke-width="0.7"/>
<circle cx="1145.73" cy="65.94" r="3.75" fill="none" stroke="#ee7b6a" stroke-width="0.7"/>
<circle cx="1147.96" cy="65.87" r="3.75" fill="none" stroke="#ee7b6a" stroke-width="0.7"/>
<circle cx="1150.19" cy="65.91" r="3.75" fill="none" stroke="#ee7b6a" stroke-width="0.7"/>
<circle cx="1152.41" cy="65.56" r="3.75" fill="none" stroke="#ee7b6a" stroke-width="0.7"/>
<circle cx="1154.64" cy="65.63" r="3.75" fill="none" stroke="#ee7b6a" stroke-width="0.7"/>
<circle cx="1156.87" cy="65.77" r="3.75" fill="none" stroke="#ee7b6a" stroke-width="0.7"/>
<circle cx="1159.09" cy="65.88" r="3.75" fill="none" stroke="#ee7b6a" stroke-width="0.7"/>
<circle cx="1161.32" cy="65.66" r="3.75" fill="none" stroke="#ee7b6a" stroke-width="0.7"/>
<circle cx="1163.55" cy="65.89" r="3.75" fill="none" stroke="#ee7b6a" stroke-width="0.7"/>
<circle cx="1165.77" cy="65.87" r="3.75" fill="none" stroke="#ee7b6a" stroke-width="0.7"/>
<circle cx="1168.00" cy="65.57" r="3.75" fill="none" stroke="#ee7b6a" stroke-width="0.7"/>
<circle cx="1170.23" cy="65.79" r="3.75" fill="none" stroke="#ee7b6a" stroke-width="0.7"/>
<circle cx="1172.45" cy="65.66" r="3.75" fill="none" stroke="#ee7b6a" stroke-width="0.7"/>
<circle cx="1174.68" cy="65.58" r="3.75" fill="none" stroke="#ee7b6a" stroke-width="0.7"/>
<circle cx="1176.91" cy="65.62" r="3.75" fill="none" stroke="#ee7b6a" stroke-width="0.7"/>
<circle cx="1179.13" cy="65.71" r="3.75" fill="none" stroke="#ee7b6a" stroke-width="0.7"/>
<circle cx="1181.36" cy="65.64" r="3.75" fill="none" stroke="#ee7b6a" stroke-width="0.7"/>
<circle cx="1183.59" cy="65.65" r="3.75" fill="none" stroke="#ee7b6a" stroke-width="0.7"/>
<circle cx="1185.81" cy="65.57" r="3.75" fill="none" stroke="#ee7b6a" stroke-width="0.7"/>
<circle cx="1188.04" cy="65.78" r="3.75" fill="none" stroke="#ee7b6a" stroke-width="0.7"/>
<circle cx="1190.27" cy="65.74" r="3.75" fill="none" stroke="#ee7b6a" stroke-width="0.7"/>
<circle cx="1192.49" cy="65.86" r="3.75" fill="none" stroke="#ee7b6a" stroke-width="0.7"/>
<circle cx="1194.72" cy="65.85" r="3.75" fill="none" stroke="#ee7b6a" stroke-width="0.7"/>
<circle cx="1196.95" cy="65.67" r="3.75" fill="none" stroke="#ee7b6a" stroke-width="0.7"/>
<circle cx="1199.18" cy="66.00" r="3.75" fill="none" stroke="#ee7b6a" stroke-width="0.7"/>
<circle cx="1201.40" cy="65.55" r="3.75" fill="none" stroke="#ee7b6a" stroke-width="0.7"/>
<circle cx="1203.63" cy="65.75" r="3.75" fill="none" stroke="#ee7b6a" stroke-width="0.7"/>
<circle cx="1205.86" cy="65.69" r="3.75" fill="none" stroke="#ee7b6a" stroke-width="0.7"/>
<circle cx="1208.08" cy="65.76" r="3.75" fill="none" stroke="#ee7b6a" stroke-width="0.7"/>
<circle cx="1210.31" cy="65.61" r="3.75" fill="none" stroke="#ee7b6a" stroke-width="0.7"/>
<circle cx="1212.54" cy="65.97" r="3.75" fill="none" stroke="#ee7b6a" stroke-width="0.7"/>
<circle cx="1214.76" cy="65.74" r="3.75" fill="none" stroke="#ee7b6a" stroke-width="0.7"/>
<circle cx="1216.99" cy="65.57" r="3.75" fill="none" stroke="#ee7b6a" stroke-width="0.7"/>
<circle cx="1219.22" cy="65.86" r="3.75" fill="none" stroke="#ee7b6a" stroke-width="0.7"/>
<circle cx="1221.44" cy="65.60" r="3.75" fill="none" stroke="#ee7b6a" stroke-width="0.7"/>
<circle cx="1223.67" cy="65.82" r="3.75" fill="none" stroke="#ee7b6a" stroke-width="0.7"/>
<circle cx="1225.90" cy="65.72" r="3.75" fill="none" stroke="#ee7b6a" stroke-width="0.7"/>
<circle cx="1228.12" cy="65.84" r="3.75" fill="none" stroke="#ee7b6a" stroke-width="0.7"/>
<circle cx="1230.35" cy="66.03" r="3.75" fill="none" stroke="#ee7b6a" stroke-width="0.7"/>
<circle cx="1232.58" cy="65.96" r="3.75" fill="none" stroke="#ee7b6a" stroke-width="0.7"/>
<circle cx="1234.80" cy="65.76" r="3.75" fill="none" stroke="#ee7b6a" stroke-width="0.7"/>
<circle cx="1237.03" cy="65.96" r="3.75" fill="none" stroke="#ee7b6a" stroke-width="0.7"/>
<circle cx="1239.26" cy="65.87" r="3.75" fill="none" stroke="#ee7b6a" stroke-width="0.7"/>
<circle cx="1241.48" cy="65.73" r="3.75" fill="none" stroke="#ee7b6a" stroke-width="0.7"/>
<circle cx="1243.71" cy="65.62" r="3.75" fill="none" stroke="#ee7b6a" stroke-width="0.7"/>
<circle cx="1245.94" cy="65.85" r="3.75" fill="none" stroke="#ee7b6a" stroke-width="0.7"/>
<circle cx="1248.16" cy="65.83" r="3.75" fill="none" stroke="#ee7b6a" stroke-width="0.7"/>
<circle cx="1250.39" cy="66.03" r="3.75" fill="none" stroke="#ee7b6a" stroke-width="0.7"/>
<circle cx="1252.62" cy="66.03" r="3.75" fill="none" stroke="#ee7b6a" stroke-width="0.7"/>
<circle cx="1254.84" cy="65.85" r="3.75" fill="none" stroke="#ee7b6a" stroke-width="0.7"/>
<circle cx="1257.07" cy="65.73" r="3.75" fill="none" stroke="#ee7b6a" stroke-width="0.7"/>
<circle cx="1259.30" cy="66.00" r="3.75" fill="none" stroke="#ee7b6a" stroke-width="0.7"/>
<circle cx="1261.52" cy="65.55" r="3.75" fill="none" stroke="#ee7b6a" stroke-width="0.7"/>
<circle cx="1263.75" cy="65.60" r="3.75" fill="none" stroke="#ee7b6a" stroke-width="0.7"/>
<circle cx="1265.98" cy="65.83" r="3.75" fill="none" stroke="#ee7b6a" stroke-width="0.7"/>
<circle cx="1268.20" cy="65.86" r="3.75" fill="none" stroke="#ee7b6a" stroke-width="0.7"/>
<circle cx="1270.43" cy="65.62" r="3.75" fill="none" stroke="#ee7b6a" stroke-width="0.7"/>
<circle cx="1272.66" cy="65.86" r="3.75" fill="none" stroke="#ee7b6a" stroke-width="0.7"/>
<circle cx="1274.88" cy="66.00" r="3.75" fill="none" stroke="#ee7b6a" stroke-width="0.7"/>
<circle cx="1277.11" cy="65.74" r="3.75" fill="none" stroke="#ee7b6a" stroke-width="0.7"/>
<circle cx="1279.34" cy="65.77" r="3.75" fill="none" stroke="#ee7b6a" stroke-width="0.7"/>
<circle cx="1281.56" cy="65.66" r="3.75" fill="none" stroke="#ee7b6a" stroke-width="0.7"/>
<circle cx="1283.79" cy="65.70" r="3.75" fill="none" stroke="#ee7b6a" stroke-width="0.7"/>
<circle cx="1286.02" cy="66.04" r="3.75" fill="none" stroke="#ee7b6a" stroke-width="0.7"/>
<circle cx="1288.25" cy="65.74" r="3.75" fill="none" stroke="#ee7b6a" stroke-width="0.7"/>
<circle cx="1290.47" cy="66.03" r="3.75" fill="none" stroke="#ee7b6a" stroke-width="0.7"/>
<circle cx="1292.70" cy="66.01" r="3.75" fill="none" stroke="#ee7b6a" stroke-width="0.7"/>
<circle cx="1294.93" cy="65.85" r="3.75" fill="none" stroke="#ee7b6a" stroke-width="0.7"/>
<circle cx="1297.15" cy="65.68" r="3.75" fill="none" stroke="#ee7b6a" stroke-width="0.7"/>
<circle cx="1299.38" cy="66.04" r="3.75" fill="none" stroke="#ee7b6a" stroke-width="0.7"/>
<circle cx="1301.61" cy="65.80" r="3.75" fill="none" stroke="#ee7b6a" stroke-width="0.7"/>
<circle cx="1303.83" cy="65.76" r="3.75" fill="none" stroke="#ee7b6a" stroke-width="0.7"/>
<circle cx="1306.06" cy="65.71" r="3.75" fill="none" stroke="#ee7b6a" stroke-width="0.7"/>
<circle cx="1308.29" cy="66.04" r="3.75" fill="none" stroke="#ee7b6a" stroke-width="0.7"/>
<circle cx="1310.51" cy="65.80" r="3.75" fill="none" stroke="#ee7b6a" stroke-width="0.7"/>
<circle cx="1312.74" cy="65.69" r="3.75" fill="none" stroke="#ee7b6a" stroke-width="0.7"/>
<circle cx="1314.97" cy="65.79" r="3.75" fill="none" stroke="#ee7b6a" stroke-width="0.7"/>
<circle cx="1317.19" cy="65.61" r="3.75" fill="none" stroke="#ee7b6a" stroke-width="0.7"/>
<circle cx="1319.42" cy="65.86" r="3.75" fill="none" stroke="#ee7b6a" stroke-width="0.7"/>
<circle cx="1321.65" cy="65.77" r="3.75" fill="none" stroke="#ee7b6a" stroke-width="0.7"/>
<circle cx="1323.87" cy="65.70" r="3.75" fill="none" stroke="#ee7b6a" stroke-width="0.7"/>
<circle cx="1326.10" cy="65.94" r="3.75" fill="none" stroke="#ee7b6a" stroke-width="0.7"/>
<g clip-path="url(#cpc)">
<circle cx="975.00" cy="137.65" r="4.7" fill="url(#gb)"/>
<circle cx="976.17" cy="138.93" r="4.7" fill="url(#gb)"/>
<circle cx="977.33" cy="141.03" r="4.7" fill="url(#gb)"/>
<circle cx="978.50" cy="140.49" r="4.7" fill="url(#gb)"/>
<circle cx="979.67" cy="141.56" r="4.7" fill="url(#gb)"/>
<circle cx="980.84" cy="142.75" r="4.7" fill="url(#gb)"/>
<circle cx="982.00" cy="142.39" r="4.7" fill="url(#gb)"/>
<circle cx="983.17" cy="144.24" r="4.7" fill="url(#gb)"/>
<circle cx="984.34" cy="145.32" r="4.7" fill="url(#gb)"/>
<circle cx="985.51" cy="146.54" r="4.7" fill="url(#gb)"/>
<circle cx="986.67" cy="145.00" r="4.7" fill="url(#gb)"/>
<circle cx="987.84" cy="146.37" r="4.7" fill="url(#gb)"/>
<circle cx="989.01" cy="146.39" r="4.7" fill="url(#gb)"/>
<circle cx="990.17" cy="149.40" r="4.7" fill="url(#gb)"/>
<circle cx="991.34" cy="149.72" r="4.7" fill="url(#gb)"/>
<circle cx="992.51" cy="148.15" r="4.7" fill="url(#gb)"/>
<circle cx="993.68" cy="151.42" r="4.7" fill="url(#gb)"/>
<circle cx="994.84" cy="151.63" r="4.7" fill="url(#gb)"/>
<circle cx="996.01" cy="150.90" r="4.7" fill="url(#gb)"/>
<circle cx="997.18" cy="151.05" r="4.7" fill="url(#gb)"/>
<circle cx="998.34" cy="149.85" r="4.7" fill="url(#gb)"/>
<circle cx="999.51" cy="149.66" r="4.7" fill="url(#gb)"/>
<circle cx="1000.68" cy="151.56" r="4.7" fill="url(#gb)"/>
<circle cx="1001.85" cy="150.33" r="4.7" fill="url(#gb)"/>
<circle cx="1003.01" cy="151.01" r="4.7" fill="url(#gb)"/>
<circle cx="1004.18" cy="151.50" r="4.7" fill="url(#gb)"/>
<circle cx="1005.35" cy="151.14" r="4.7" fill="url(#gb)"/>
<circle cx="1006.52" cy="152.85" r="4.7" fill="url(#gb)"/>
<circle cx="1007.68" cy="153.10" r="4.7" fill="url(#gb)"/>
<circle cx="1008.85" cy="154.70" r="4.7" fill="url(#gb)"/>
<circle cx="1010.02" cy="153.99" r="4.7" fill="url(#gb)"/>
<circle cx="1011.18" cy="154.78" r="4.7" fill="url(#gb)"/>
<circle cx="1012.35" cy="155.14" r="4.7" fill="url(#gb)"/>
<circle cx="1013.52" cy="156.48" r="4.7" fill="url(#gb)"/>
<circle cx="1014.69" cy="156.64" r="4.7" fill="url(#gb)"/>
<circle cx="1015.85" cy="156.88" r="4.7" fill="url(#gb)"/>
<circle cx="1017.02" cy="159.99" r="4.7" fill="url(#gb)"/>
<circle cx="1018.19" cy="160.80" r="4.7" fill="url(#gb)"/>
<circle cx="1019.35" cy="161.12" r="4.7" fill="url(#gb)"/>
<circle cx="1020.52" cy="161.51" r="4.7" fill="url(#gb)"/>
<circle cx="1021.69" cy="161.07" r="4.7" fill="url(#gb)"/>
<circle cx="1022.86" cy="161.62" r="4.7" fill="url(#gb)"/>
<circle cx="1024.02" cy="162.63" r="4.7" fill="url(#gb)"/>
<circle cx="1025.19" cy="162.75" r="4.7" fill="url(#gb)"/>
<circle cx="1026.36" cy="165.79" r="4.7" fill="url(#gb)"/>
<circle cx="1027.53" cy="165.44" r="4.7" fill="url(#gb)"/>
<circle cx="1028.69" cy="167.69" r="4.7" fill="url(#gb)"/>
<circle cx="1029.86" cy="167.04" r="4.7" fill="url(#gb)"/>
<circle cx="1031.03" cy="169.77" r="4.7" fill="url(#gb)"/>
<circle cx="1032.19" cy="170.33" r="4.7" fill="url(#gb)"/>
<circle cx="1033.36" cy="168.53" r="4.7" fill="url(#gb)"/>
<circle cx="1034.53" cy="170.11" r="4.7" fill="url(#gb)"/>
<circle cx="1035.70" cy="173.26" r="4.7" fill="url(#gb)"/>
<circle cx="1036.86" cy="172.77" r="4.7" fill="url(#gb)"/>
<circle cx="1038.03" cy="175.31" r="4.7" fill="url(#gb)"/>
<circle cx="1039.20" cy="174.36" r="4.7" fill="url(#gb)"/>
<circle cx="1040.36" cy="173.92" r="4.7" fill="url(#gb)"/>
<circle cx="1041.53" cy="176.13" r="4.7" fill="url(#gb)"/>
<circle cx="1042.70" cy="177.05" r="4.7" fill="url(#gb)"/>
<circle cx="1043.87" cy="175.85" r="4.7" fill="url(#gb)"/>
<circle cx="1045.03" cy="175.70" r="4.7" fill="url(#gb)"/>
<circle cx="1046.20" cy="176.92" r="4.7" fill="url(#gb)"/>
<circle cx="1047.37" cy="179.38" r="4.7" fill="url(#gb)"/>
<circle cx="1048.54" cy="179.15" r="4.7" fill="url(#gb)"/>
<circle cx="1049.70" cy="177.73" r="4.7" fill="url(#gb)"/>
<circle cx="1050.87" cy="178.90" r="4.7" fill="url(#gb)"/>
<circle cx="1052.04" cy="179.18" r="4.7" fill="url(#gb)"/>
<circle cx="1053.20" cy="179.81" r="4.7" fill="url(#gb)"/>
<circle cx="1054.37" cy="182.92" r="4.7" fill="url(#gb)"/>
<circle cx="1055.54" cy="181.69" r="4.7" fill="url(#gb)"/>
<circle cx="1056.71" cy="183.67" r="4.7" fill="url(#gb)"/>
<circle cx="1057.87" cy="184.06" r="4.7" fill="url(#gb)"/>
<circle cx="1059.04" cy="183.95" r="4.7" fill="url(#gb)"/>
<circle cx="1060.21" cy="186.31" r="4.7" fill="url(#gb)"/>
<circle cx="1061.37" cy="185.02" r="4.7" fill="url(#gb)"/>
<circle cx="1062.54" cy="187.30" r="4.7" fill="url(#gb)"/>
<circle cx="1063.71" cy="186.24" r="4.7" fill="url(#gb)"/>
<circle cx="1064.88" cy="187.85" r="4.7" fill="url(#gb)"/>
<circle cx="1066.04" cy="187.82" r="4.7" fill="url(#gb)"/>
<circle cx="1067.21" cy="188.64" r="4.7" fill="url(#gb)"/>
<circle cx="1068.38" cy="191.39" r="4.7" fill="url(#gb)"/>
<circle cx="1069.55" cy="191.13" r="4.7" fill="url(#gb)"/>
<circle cx="1070.71" cy="189.80" r="4.7" fill="url(#gb)"/>
<circle cx="1071.88" cy="191.93" r="4.7" fill="url(#gb)"/>
<circle cx="1073.05" cy="190.04" r="4.7" fill="url(#gb)"/>
<circle cx="1074.21" cy="190.90" r="4.7" fill="url(#gb)"/>
<circle cx="1075.38" cy="192.64" r="4.7" fill="url(#gb)"/>
<circle cx="1076.55" cy="192.23" r="4.7" fill="url(#gb)"/>
<circle cx="1077.72" cy="190.77" r="4.7" fill="url(#gb)"/>
<circle cx="1078.88" cy="193.89" r="4.7" fill="url(#gb)"/>
<circle cx="1080.05" cy="191.67" r="4.7" fill="url(#gb)"/>
<circle cx="1081.22" cy="192.09" r="4.7" fill="url(#gb)"/>
<circle cx="1082.38" cy="194.00" r="4.7" fill="url(#gb)"/>
<circle cx="1083.55" cy="192.85" r="4.7" fill="url(#gb)"/>
<circle cx="1084.72" cy="193.02" r="4.7" fill="url(#gb)"/>
<circle cx="1085.89" cy="192.58" r="4.7" fill="url(#gb)"/>
<circle cx="1087.05" cy="192.91" r="4.7" fill="url(#gb)"/>
<circle cx="1088.22" cy="194.88" r="4.7" fill="url(#gb)"/>
<circle cx="1089.39" cy="194.19" r="4.7" fill="url(#gb)"/>
<circle cx="1090.56" cy="195.73" r="4.7" fill="url(#gb)"/>
<circle cx="1091.72" cy="195.40" r="4.7" fill="url(#gb)"/>
<circle cx="1092.89" cy="196.05" r="4.7" fill="url(#gb)"/>
<circle cx="1094.06" cy="198.07" r="4.7" fill="url(#gb)"/>
<circle cx="1095.22" cy="196.95" r="4.7" fill="url(#gb)"/>
<circle cx="1096.39" cy="197.63" r="4.7" fill="url(#gb)"/>
<circle cx="1097.56" cy="198.89" r="4.7" fill="url(#gb)"/>
<circle cx="1098.73" cy="197.01" r="4.7" fill="url(#gb)"/>
<circle cx="1099.89" cy="197.22" r="4.7" fill="url(#gb)"/>
<circle cx="1101.06" cy="199.93" r="4.7" fill="url(#gb)"/>
<circle cx="1102.23" cy="199.94" r="4.7" fill="url(#gb)"/>
<circle cx="1103.39" cy="198.43" r="4.7" fill="url(#gb)"/>
<circle cx="1104.56" cy="198.54" r="4.7" fill="url(#gb)"/>
<circle cx="1105.73" cy="200.60" r="4.7" fill="url(#gb)"/>
<circle cx="1106.90" cy="201.32" r="4.7" fill="url(#gb)"/>
<circle cx="1108.06" cy="198.95" r="4.7" fill="url(#gb)"/>
<circle cx="1109.23" cy="201.38" r="4.7" fill="url(#gb)"/>
<circle cx="1110.40" cy="201.17" r="4.7" fill="url(#gb)"/>
<circle cx="1111.57" cy="200.29" r="4.7" fill="url(#gb)"/>
<circle cx="1112.73" cy="199.72" r="4.7" fill="url(#gb)"/>
<circle cx="1113.90" cy="198.72" r="4.7" fill="url(#gb)"/>
<circle cx="1115.07" cy="198.52" r="4.7" fill="url(#gb)"/>
<circle cx="1116.23" cy="201.48" r="4.7" fill="url(#gb)"/>
<circle cx="1117.40" cy="199.16" r="4.7" fill="url(#gb)"/>
<circle cx="1118.57" cy="200.65" r="4.7" fill="url(#gb)"/>
<circle cx="1119.74" cy="199.22" r="4.7" fill="url(#gb)"/>
<circle cx="1120.90" cy="201.04" r="4.7" fill="url(#gb)"/>
<circle cx="1122.07" cy="200.31" r="4.7" fill="url(#gb)"/>
<circle cx="1123.24" cy="199.34" r="4.7" fill="url(#gb)"/>
<circle cx="1124.40" cy="198.96" r="4.7" fill="url(#gb)"/>
<circle cx="1125.57" cy="200.56" r="4.7" fill="url(#gb)"/>
<circle cx="1126.74" cy="198.19" r="4.7" fill="url(#gb)"/>
<circle cx="1127.91" cy="198.40" r="4.7" fill="url(#gb)"/>
<circle cx="1129.07" cy="199.17" r="4.7" fill="url(#gb)"/>
<circle cx="1130.24" cy="199.82" r="4.7" fill="url(#gb)"/>
<circle cx="1131.41" cy="198.69" r="4.7" fill="url(#gb)"/>
<circle cx="1132.58" cy="197.10" r="4.7" fill="url(#gb)"/>
<circle cx="1133.74" cy="198.63" r="4.7" fill="url(#gb)"/>
<circle cx="1134.91" cy="195.83" r="4.7" fill="url(#gb)"/>
<circle cx="1136.08" cy="194.72" r="4.7" fill="url(#gb)"/>
<circle cx="1137.24" cy="195.01" r="4.7" fill="url(#gb)"/>
<circle cx="1138.41" cy="195.07" r="4.7" fill="url(#gb)"/>
<circle cx="1139.58" cy="195.26" r="4.7" fill="url(#gb)"/>
<circle cx="1140.75" cy="197.23" r="4.7" fill="url(#gb)"/>
<circle cx="1141.91" cy="199.43" r="4.7" fill="url(#gb)"/>
<circle cx="1143.08" cy="201.68" r="4.7" fill="url(#gb)"/>
<circle cx="1144.25" cy="201.69" r="4.7" fill="url(#gb)"/>
<circle cx="1145.41" cy="203.25" r="4.7" fill="url(#gb)"/>
<circle cx="1146.58" cy="205.76" r="4.7" fill="url(#gb)"/>
<circle cx="1147.75" cy="206.86" r="4.7" fill="url(#gb)"/>
<circle cx="1148.92" cy="206.64" r="4.7" fill="url(#gb)"/>
<circle cx="1150.08" cy="207.57" r="4.7" fill="url(#gb)"/>
<circle cx="1151.25" cy="208.05" r="4.7" fill="url(#gb)"/>
<circle cx="1152.42" cy="207.44" r="4.7" fill="url(#gb)"/>
<circle cx="1153.59" cy="207.93" r="4.7" fill="url(#gb)"/>
<circle cx="1154.75" cy="208.71" r="4.7" fill="url(#gb)"/>
<circle cx="1155.92" cy="212.40" r="4.7" fill="url(#gb)"/>
<circle cx="1157.09" cy="212.56" r="4.7" fill="url(#gb)"/>
<circle cx="1158.25" cy="214.23" r="4.7" fill="url(#gb)"/>
<circle cx="1159.42" cy="212.05" r="4.7" fill="url(#gb)"/>
<circle cx="1160.59" cy="214.04" r="4.7" fill="url(#gb)"/>
<circle cx="1161.76" cy="212.77" r="4.7" fill="url(#gb)"/>
<circle cx="1162.92" cy="212.79" r="4.7" fill="url(#gb)"/>
<circle cx="1164.09" cy="210.69" r="4.7" fill="url(#gb)"/>
<circle cx="1165.26" cy="212.09" r="4.7" fill="url(#gb)"/>
<circle cx="1166.42" cy="208.44" r="4.7" fill="url(#gb)"/>
<circle cx="1167.59" cy="209.40" r="4.7" fill="url(#gb)"/>
<circle cx="1168.76" cy="209.47" r="4.7" fill="url(#gb)"/>
<circle cx="1169.93" cy="209.45" r="4.7" fill="url(#gb)"/>
<circle cx="1171.09" cy="208.38" r="4.7" fill="url(#gb)"/>
<circle cx="1172.26" cy="207.73" r="4.7" fill="url(#gb)"/>
<circle cx="1173.43" cy="207.47" r="4.7" fill="url(#gb)"/>
<circle cx="1174.60" cy="207.72" r="4.7" fill="url(#gb)"/>
<circle cx="1175.76" cy="205.81" r="4.7" fill="url(#gb)"/>
<circle cx="1176.93" cy="206.77" r="4.7" fill="url(#gb)"/>
<circle cx="1178.10" cy="207.35" r="4.7" fill="url(#gb)"/>
<circle cx="1179.26" cy="207.14" r="4.7" fill="url(#gb)"/>
<circle cx="1180.43" cy="205.58" r="4.7" fill="url(#gb)"/>
<circle cx="1181.60" cy="206.66" r="4.7" fill="url(#gb)"/>
<circle cx="1182.77" cy="206.79" r="4.7" fill="url(#gb)"/>
<circle cx="1183.93" cy="206.42" r="4.7" fill="url(#gb)"/>
<circle cx="1185.10" cy="207.32" r="4.7" fill="url(#gb)"/>
<circle cx="1186.27" cy="207.28" r="4.7" fill="url(#gb)"/>
<circle cx="1187.43" cy="208.65" r="4.7" fill="url(#gb)"/>
<circle cx="1188.60" cy="209.47" r="4.7" fill="url(#gb)"/>
<circle cx="1189.77" cy="208.51" r="4.7" fill="url(#gb)"/>
<circle cx="1190.94" cy="211.69" r="4.7" fill="url(#gb)"/>
<circle cx="1192.10" cy="214.38" r="4.7" fill="url(#gb)"/>
<circle cx="1193.27" cy="215.58" r="4.7" fill="url(#gb)"/>
<circle cx="1194.44" cy="216.65" r="4.7" fill="url(#gb)"/>
<circle cx="1195.61" cy="215.25" r="4.7" fill="url(#gb)"/>
<circle cx="1196.77" cy="215.95" r="4.7" fill="url(#gb)"/>
<circle cx="1197.94" cy="215.05" r="4.7" fill="url(#gb)"/>
<circle cx="1199.11" cy="214.18" r="4.7" fill="url(#gb)"/>
<circle cx="1200.27" cy="215.04" r="4.7" fill="url(#gb)"/>
<circle cx="1201.44" cy="212.22" r="4.7" fill="url(#gb)"/>
<circle cx="1202.61" cy="213.94" r="4.7" fill="url(#gb)"/>
<circle cx="1203.78" cy="211.43" r="4.7" fill="url(#gb)"/>
<circle cx="1204.94" cy="213.17" r="4.7" fill="url(#gb)"/>
<circle cx="1206.11" cy="212.69" r="4.7" fill="url(#gb)"/>
<circle cx="1207.28" cy="211.79" r="4.7" fill="url(#gb)"/>
<circle cx="1208.44" cy="213.19" r="4.7" fill="url(#gb)"/>
<circle cx="1209.61" cy="212.45" r="4.7" fill="url(#gb)"/>
<circle cx="1210.78" cy="212.73" r="4.7" fill="url(#gb)"/>
<circle cx="1211.95" cy="213.68" r="4.7" fill="url(#gb)"/>
<circle cx="1213.11" cy="211.67" r="4.7" fill="url(#gb)"/>
<circle cx="1214.28" cy="211.00" r="4.7" fill="url(#gb)"/>
<circle cx="1215.45" cy="212.05" r="4.7" fill="url(#gb)"/>
<circle cx="1216.62" cy="213.37" r="4.7" fill="url(#gb)"/>
<circle cx="1217.78" cy="211.97" r="4.7" fill="url(#gb)"/>
<circle cx="1218.95" cy="211.98" r="4.7" fill="url(#gb)"/>
<circle cx="1220.12" cy="214.45" r="4.7" fill="url(#gb)"/>
<circle cx="1221.28" cy="213.78" r="4.7" fill="url(#gb)"/>
<circle cx="1222.45" cy="213.20" r="4.7" fill="url(#gb)"/>
<circle cx="1223.62" cy="214.76" r="4.7" fill="url(#gb)"/>
<circle cx="1224.79" cy="213.06" r="4.7" fill="url(#gb)"/>
<circle cx="1225.95" cy="214.27" r="4.7" fill="url(#gb)"/>
<circle cx="1227.12" cy="212.89" r="4.7" fill="url(#gb)"/>
<circle cx="1228.29" cy="213.75" r="4.7" fill="url(#gb)"/>
<circle cx="1229.45" cy="215.06" r="4.7" fill="url(#gb)"/>
<circle cx="1230.62" cy="215.53" r="4.7" fill="url(#gb)"/>
<circle cx="1231.79" cy="215.90" r="4.7" fill="url(#gb)"/>
<circle cx="1232.96" cy="214.78" r="4.7" fill="url(#gb)"/>
<circle cx="1234.12" cy="215.89" r="4.7" fill="url(#gb)"/>
<circle cx="1235.29" cy="215.51" r="4.7" fill="url(#gb)"/>
<circle cx="1236.00" cy="218.00" r="4.7" fill="url(#gb)"/>
<circle cx="1236.46" cy="215.40" r="4.7" fill="url(#gb)"/>
<circle cx="1237.63" cy="217.03" r="4.7" fill="url(#gb)"/>
<circle cx="1238.79" cy="218.59" r="4.7" fill="url(#gb)"/>
<circle cx="1239.96" cy="219.10" r="4.7" fill="url(#gb)"/>
<circle cx="1241.13" cy="219.12" r="4.7" fill="url(#gb)"/>
<circle cx="1242.29" cy="220.35" r="4.7" fill="url(#gb)"/>
<circle cx="1243.46" cy="218.66" r="4.7" fill="url(#gb)"/>
<circle cx="1244.63" cy="218.77" r="4.7" fill="url(#gb)"/>
<circle cx="1245.80" cy="220.14" r="4.7" fill="url(#gb)"/>
<circle cx="1246.96" cy="220.04" r="4.7" fill="url(#gb)"/>
<circle cx="1248.13" cy="220.30" r="4.7" fill="url(#gb)"/>
<circle cx="1249.30" cy="221.41" r="4.7" fill="url(#gb)"/>
<circle cx="1250.46" cy="221.46" r="4.7" fill="url(#gb)"/>
<circle cx="1251.63" cy="220.03" r="4.7" fill="url(#gb)"/>
<circle cx="1252.80" cy="218.45" r="4.7" fill="url(#gb)"/>
<circle cx="1253.97" cy="219.11" r="4.7" fill="url(#gb)"/>
<circle cx="1255.13" cy="218.68" r="4.7" fill="url(#gb)"/>
<circle cx="1256.30" cy="216.10" r="4.7" fill="url(#gb)"/>
<circle cx="1257.47" cy="214.00" r="4.7" fill="url(#gb)"/>
<circle cx="1258.64" cy="212.98" r="4.7" fill="url(#gb)"/>
<circle cx="1259.80" cy="216.17" r="4.7" fill="url(#gb)"/>
<circle cx="1260.00" cy="214.00" r="4.7" fill="url(#gb)"/>
<circle cx="1260.97" cy="214.64" r="4.7" fill="url(#gb)"/>
<circle cx="1262.14" cy="217.90" r="4.7" fill="url(#gb)"/>
<circle cx="1263.30" cy="218.59" r="4.7" fill="url(#gb)"/>
<circle cx="1264.47" cy="218.88" r="4.7" fill="url(#gb)"/>
<circle cx="1265.64" cy="221.35" r="4.7" fill="url(#gb)"/>
<circle cx="1266.81" cy="219.64" r="4.7" fill="url(#gb)"/>
<circle cx="1267.97" cy="220.78" r="4.7" fill="url(#gb)"/>
<circle cx="1269.14" cy="222.56" r="4.7" fill="url(#gb)"/>
<circle cx="1270.31" cy="221.95" r="4.7" fill="url(#gb)"/>
<circle cx="1271.47" cy="225.29" r="4.7" fill="url(#gb)"/>
<circle cx="1272.64" cy="224.16" r="4.7" fill="url(#gb)"/>
<circle cx="1273.81" cy="224.61" r="4.7" fill="url(#gb)"/>
<circle cx="1274.98" cy="225.07" r="4.7" fill="url(#gb)"/>
<circle cx="1276.14" cy="227.70" r="4.7" fill="url(#gb)"/>
<circle cx="1277.31" cy="227.88" r="4.7" fill="url(#gb)"/>
<circle cx="1278.48" cy="229.10" r="4.7" fill="url(#gb)"/>
<circle cx="1279.65" cy="229.65" r="4.7" fill="url(#gb)"/>
<circle cx="1280.81" cy="230.59" r="4.7" fill="url(#gb)"/>
<circle cx="1281.98" cy="231.54" r="4.7" fill="url(#gb)"/>
<circle cx="1283.15" cy="231.12" r="4.7" fill="url(#gb)"/>
<circle cx="1284.31" cy="230.03" r="4.7" fill="url(#gb)"/>
<circle cx="1285.48" cy="231.37" r="4.7" fill="url(#gb)"/>
<circle cx="1286.65" cy="230.89" r="4.7" fill="url(#gb)"/>
<circle cx="1287.82" cy="230.81" r="4.7" fill="url(#gb)"/>
<circle cx="1288.98" cy="232.75" r="4.7" fill="url(#gb)"/>
<circle cx="1290.15" cy="233.98" r="4.7" fill="url(#gb)"/>
<circle cx="1291.32" cy="232.73" r="4.7" fill="url(#gb)"/>
<circle cx="1292.48" cy="233.49" r="4.7" fill="url(#gb)"/>
<circle cx="1293.65" cy="234.18" r="4.7" fill="url(#gb)"/>
<circle cx="1294.82" cy="235.77" r="4.7" fill="url(#gb)"/>
<circle cx="1295.99" cy="235.67" r="4.7" fill="url(#gb)"/>
<circle cx="1296.00" cy="249.00" r="4.7" fill="url(#gb)"/>
<circle cx="1297.15" cy="236.44" r="4.7" fill="url(#gb)"/>
<circle cx="1298.32" cy="237.49" r="4.7" fill="url(#gb)"/>
<circle cx="1299.49" cy="236.92" r="4.7" fill="url(#gb)"/>
<circle cx="1300.66" cy="238.78" r="4.7" fill="url(#gb)"/>
<circle cx="1301.00" cy="250.40" r="4.7" fill="url(#gb)"/>
<circle cx="1301.82" cy="239.74" r="4.7" fill="url(#gb)"/>
<circle cx="1302.99" cy="237.70" r="4.7" fill="url(#gb)"/>
<circle cx="1304.16" cy="241.00" r="4.7" fill="url(#gb)"/>
<circle cx="1305.32" cy="240.92" r="4.7" fill="url(#gb)"/>
<circle cx="1306.49" cy="239.61" r="4.7" fill="url(#gb)"/>
<circle cx="1307.66" cy="241.34" r="4.7" fill="url(#gb)"/>
<circle cx="1308.83" cy="242.60" r="4.7" fill="url(#gb)"/>
<circle cx="1309.99" cy="244.23" r="4.7" fill="url(#gb)"/>
<circle cx="1311.16" cy="243.24" r="4.7" fill="url(#gb)"/>
<circle cx="1312.33" cy="244.57" r="4.7" fill="url(#gb)"/>
<circle cx="1313.49" cy="246.28" r="4.7" fill="url(#gb)"/>
<circle cx="1314.66" cy="246.73" r="4.7" fill="url(#gb)"/>
<circle cx="1315.83" cy="247.92" r="4.7" fill="url(#gb)"/>
<circle cx="1317.00" cy="246.58" r="4.7" fill="url(#gb)"/>
<circle cx="1318.00" cy="251.00" r="4.7" fill="url(#gb)"/>
<circle cx="1318.16" cy="247.30" r="4.7" fill="url(#gb)"/>
<circle cx="1319.33" cy="245.99" r="4.7" fill="url(#gb)"/>
<circle cx="1320.50" cy="247.76" r="4.7" fill="url(#gb)"/>
<circle cx="1321.67" cy="248.19" r="4.7" fill="url(#gb)"/>
<circle cx="1322.83" cy="247.74" r="4.7" fill="url(#gb)"/>
<circle cx="1323.00" cy="249.50" r="4.7" fill="url(#gb)"/>
<circle cx="1324.00" cy="248.10" r="4.7" fill="url(#gb)"/>
<circle cx="975.00" cy="109.71" r="4.7" fill="url(#gr)"/>
<circle cx="976.17" cy="110.46" r="4.7" fill="url(#gr)"/>
<circle cx="977.33" cy="110.79" r="4.7" fill="url(#gr)"/>
<circle cx="978.50" cy="109.84" r="4.7" fill="url(#gr)"/>
<circle cx="979.67" cy="109.84" r="4.7" fill="url(#gr)"/>
<circle cx="980.84" cy="111.02" r="4.7" fill="url(#gr)"/>
<circle cx="982.00" cy="111.09" r="4.7" fill="url(#gr)"/>
<circle cx="983.17" cy="112.69" r="4.7" fill="url(#gr)"/>
<circle cx="984.34" cy="112.71" r="4.7" fill="url(#gr)"/>
<circle cx="985.51" cy="112.81" r="4.7" fill="url(#gr)"/>
<circle cx="986.67" cy="113.02" r="4.7" fill="url(#gr)"/>
<circle cx="987.84" cy="113.58" r="4.7" fill="url(#gr)"/>
<circle cx="989.01" cy="112.65" r="4.7" fill="url(#gr)"/>
<circle cx="990.17" cy="113.67" r="4.7" fill="url(#gr)"/>
<circle cx="991.34" cy="113.31" r="4.7" fill="url(#gr)"/>
<circle cx="992.51" cy="115.35" r="4.7" fill="url(#gr)"/>
<circle cx="993.68" cy="113.49" r="4.7" fill="url(#gr)"/>
<circle cx="994.84" cy="115.48" r="4.7" fill="url(#gr)"/>
<circle cx="996.01" cy="113.87" r="4.7" fill="url(#gr)"/>
<circle cx="997.18" cy="115.51" r="4.7" fill="url(#gr)"/>
<circle cx="998.34" cy="114.84" r="4.7" fill="url(#gr)"/>
<circle cx="999.51" cy="115.18" r="4.7" fill="url(#gr)"/>
<circle cx="1000.68" cy="116.40" r="4.7" fill="url(#gr)"/>
<circle cx="1001.85" cy="114.60" r="4.7" fill="url(#gr)"/>
<circle cx="1003.01" cy="114.87" r="4.7" fill="url(#gr)"/>
<circle cx="1004.18" cy="117.09" r="4.7" fill="url(#gr)"/>
<circle cx="1005.35" cy="116.29" r="4.7" fill="url(#gr)"/>
<circle cx="1006.52" cy="115.46" r="4.7" fill="url(#gr)"/>
<circle cx="1007.68" cy="117.78" r="4.7" fill="url(#gr)"/>
<circle cx="1008.85" cy="117.86" r="4.7" fill="url(#gr)"/>
<circle cx="1010.02" cy="116.03" r="4.7" fill="url(#gr)"/>
<circle cx="1011.18" cy="116.93" r="4.7" fill="url(#gr)"/>
<circle cx="1012.35" cy="116.36" r="4.7" fill="url(#gr)"/>
<circle cx="1013.52" cy="116.90" r="4.7" fill="url(#gr)"/>
<circle cx="1014.69" cy="117.76" r="4.7" fill="url(#gr)"/>
<circle cx="1015.85" cy="116.78" r="4.7" fill="url(#gr)"/>
<circle cx="1017.02" cy="118.17" r="4.7" fill="url(#gr)"/>
<circle cx="1018.19" cy="116.74" r="4.7" fill="url(#gr)"/>
<circle cx="1019.35" cy="117.15" r="4.7" fill="url(#gr)"/>
<circle cx="1020.52" cy="118.81" r="4.7" fill="url(#gr)"/>
<circle cx="1021.69" cy="117.93" r="4.7" fill="url(#gr)"/>
<circle cx="1022.86" cy="118.09" r="4.7" fill="url(#gr)"/>
<circle cx="1024.02" cy="118.63" r="4.7" fill="url(#gr)"/>
<circle cx="1025.19" cy="118.46" r="4.7" fill="url(#gr)"/>
<circle cx="1026.36" cy="118.36" r="4.7" fill="url(#gr)"/>
<circle cx="1027.53" cy="117.63" r="4.7" fill="url(#gr)"/>
<circle cx="1028.69" cy="119.41" r="4.7" fill="url(#gr)"/>
<circle cx="1029.86" cy="120.11" r="4.7" fill="url(#gr)"/>
<circle cx="1031.03" cy="120.30" r="4.7" fill="url(#gr)"/>
<circle cx="1032.19" cy="119.73" r="4.7" fill="url(#gr)"/>
<circle cx="1033.36" cy="119.17" r="4.7" fill="url(#gr)"/>
<circle cx="1034.53" cy="119.36" r="4.7" fill="url(#gr)"/>
<circle cx="1035.70" cy="120.33" r="4.7" fill="url(#gr)"/>
<circle cx="1036.86" cy="120.46" r="4.7" fill="url(#gr)"/>
<circle cx="1038.03" cy="119.30" r="4.7" fill="url(#gr)"/>
<circle cx="1039.20" cy="119.77" r="4.7" fill="url(#gr)"/>
<circle cx="1040.36" cy="120.25" r="4.7" fill="url(#gr)"/>
<circle cx="1041.53" cy="120.79" r="4.7" fill="url(#gr)"/>
<circle cx="1042.70" cy="121.68" r="4.7" fill="url(#gr)"/>
<circle cx="1043.87" cy="121.12" r="4.7" fill="url(#gr)"/>
<circle cx="1045.03" cy="120.16" r="4.7" fill="url(#gr)"/>
<circle cx="1046.20" cy="122.25" r="4.7" fill="url(#gr)"/>
<circle cx="1047.37" cy="121.48" r="4.7" fill="url(#gr)"/>
<circle cx="1048.54" cy="121.87" r="4.7" fill="url(#gr)"/>
<circle cx="1049.70" cy="121.30" r="4.7" fill="url(#gr)"/>
<circle cx="1050.87" cy="121.91" r="4.7" fill="url(#gr)"/>
<circle cx="1052.04" cy="121.94" r="4.7" fill="url(#gr)"/>
<circle cx="1053.20" cy="122.97" r="4.7" fill="url(#gr)"/>
<circle cx="1054.37" cy="121.48" r="4.7" fill="url(#gr)"/>
<circle cx="1055.54" cy="122.67" r="4.7" fill="url(#gr)"/>
<circle cx="1056.71" cy="121.90" r="4.7" fill="url(#gr)"/>
<circle cx="1057.87" cy="123.26" r="4.7" fill="url(#gr)"/>
<circle cx="1059.04" cy="121.79" r="4.7" fill="url(#gr)"/>
<circle cx="1060.21" cy="122.48" r="4.7" fill="url(#gr)"/>
<circle cx="1061.37" cy="122.76" r="4.7" fill="url(#gr)"/>
<circle cx="1062.54" cy="123.58" r="4.7" fill="url(#gr)"/>
<circle cx="1063.71" cy="122.30" r="4.7" fill="url(#gr)"/>
<circle cx="1064.88" cy="123.39" r="4.7" fill="url(#gr)"/>
<circle cx="1066.04" cy="122.91" r="4.7" fill="url(#gr)"/>
<circle cx="1067.21" cy="123.20" r="4.7" fill="url(#gr)"/>
<circle cx="1068.38" cy="123.86" r="4.7" fill="url(#gr)"/>
<circle cx="1069.55" cy="125.38" r="4.7" fill="url(#gr)"/>
<circle cx="1070.71" cy="124.60" r="4.7" fill="url(#gr)"/>
<circle cx="1071.88" cy="126.11" r="4.7" fill="url(#gr)"/>
<circle cx="1073.05" cy="124.58" r="4.7" fill="url(#gr)"/>
<circle cx="1074.21" cy="126.76" r="4.7" fill="url(#gr)"/>
<circle cx="1075.38" cy="125.78" r="4.7" fill="url(#gr)"/>
<circle cx="1076.55" cy="125.73" r="4.7" fill="url(#gr)"/>
<circle cx="1077.00" cy="128.50" r="4.7" fill="url(#gr)"/>
<circle cx="1077.72" cy="127.38" r="4.7" fill="url(#gr)"/>
<circle cx="1078.88" cy="127.64" r="4.7" fill="url(#gr)"/>
<circle cx="1080.05" cy="125.33" r="4.7" fill="url(#gr)"/>
<circle cx="1081.22" cy="125.82" r="4.7" fill="url(#gr)"/>
<circle cx="1082.38" cy="126.89" r="4.7" fill="url(#gr)"/>
<circle cx="1083.55" cy="125.72" r="4.7" fill="url(#gr)"/>
<circle cx="1084.72" cy="125.35" r="4.7" fill="url(#gr)"/>
<circle cx="1085.89" cy="124.65" r="4.7" fill="url(#gr)"/>
<circle cx="1087.05" cy="124.60" r="4.7" fill="url(#gr)"/>
<circle cx="1088.22" cy="126.17" r="4.7" fill="url(#gr)"/>
<circle cx="1089.39" cy="127.21" r="4.7" fill="url(#gr)"/>
<circle cx="1090.56" cy="127.42" r="4.7" fill="url(#gr)"/>
<circle cx="1091.72" cy="126.40" r="4.7" fill="url(#gr)"/>
<circle cx="1092.89" cy="125.43" r="4.7" fill="url(#gr)"/>
<circle cx="1094.06" cy="126.31" r="4.7" fill="url(#gr)"/>
<circle cx="1095.22" cy="127.60" r="4.7" fill="url(#gr)"/>
<circle cx="1096.39" cy="127.88" r="4.7" fill="url(#gr)"/>
<circle cx="1097.56" cy="127.59" r="4.7" fill="url(#gr)"/>
<circle cx="1098.73" cy="126.78" r="4.7" fill="url(#gr)"/>
<circle cx="1099.89" cy="127.67" r="4.7" fill="url(#gr)"/>
<circle cx="1101.06" cy="127.72" r="4.7" fill="url(#gr)"/>
<circle cx="1102.23" cy="128.25" r="4.7" fill="url(#gr)"/>
<circle cx="1103.39" cy="127.55" r="4.7" fill="url(#gr)"/>
<circle cx="1104.56" cy="129.36" r="4.7" fill="url(#gr)"/>
<circle cx="1105.73" cy="129.41" r="4.7" fill="url(#gr)"/>
<circle cx="1106.90" cy="127.74" r="4.7" fill="url(#gr)"/>
<circle cx="1108.06" cy="128.11" r="4.7" fill="url(#gr)"/>
<circle cx="1109.23" cy="129.57" r="4.7" fill="url(#gr)"/>
<circle cx="1110.40" cy="128.20" r="4.7" fill="url(#gr)"/>
<circle cx="1111.57" cy="129.86" r="4.7" fill="url(#gr)"/>
<circle cx="1112.73" cy="128.89" r="4.7" fill="url(#gr)"/>
<circle cx="1113.90" cy="129.39" r="4.7" fill="url(#gr)"/>
<circle cx="1115.07" cy="129.47" r="4.7" fill="url(#gr)"/>
<circle cx="1116.23" cy="128.35" r="4.7" fill="url(#gr)"/>
<circle cx="1117.40" cy="128.58" r="4.7" fill="url(#gr)"/>
<circle cx="1118.57" cy="128.57" r="4.7" fill="url(#gr)"/>
<circle cx="1119.74" cy="129.66" r="4.7" fill="url(#gr)"/>
<circle cx="1120.90" cy="129.75" r="4.7" fill="url(#gr)"/>
<circle cx="1122.07" cy="128.46" r="4.7" fill="url(#gr)"/>
<circle cx="1123.24" cy="130.33" r="4.7" fill="url(#gr)"/>
<circle cx="1124.40" cy="129.28" r="4.7" fill="url(#gr)"/>
<circle cx="1125.57" cy="128.94" r="4.7" fill="url(#gr)"/>
<circle cx="1126.74" cy="129.52" r="4.7" fill="url(#gr)"/>
<circle cx="1127.91" cy="130.94" r="4.7" fill="url(#gr)"/>
<circle cx="1129.07" cy="130.05" r="4.7" fill="url(#gr)"/>
<circle cx="1130.24" cy="130.32" r="4.7" fill="url(#gr)"/>
<circle cx="1131.41" cy="131.15" r="4.7" fill="url(#gr)"/>
<circle cx="1132.58" cy="131.37" r="4.7" fill="url(#gr)"/>
<circle cx="1133.74" cy="131.00" r="4.7" fill="url(#gr)"/>
<circle cx="1134.91" cy="130.29" r="4.7" fill="url(#gr)"/>
<circle cx="1136.08" cy="130.82" r="4.7" fill="url(#gr)"/>
<circle cx="1137.24" cy="131.69" r="4.7" fill="url(#gr)"/>
<circle cx="1138.41" cy="131.54" r="4.7" fill="url(#gr)"/>
<circle cx="1139.58" cy="131.15" r="4.7" fill="url(#gr)"/>
<circle cx="1140.75" cy="130.71" r="4.7" fill="url(#gr)"/>
<circle cx="1141.91" cy="130.88" r="4.7" fill="url(#gr)"/>
<circle cx="1143.08" cy="131.87" r="4.7" fill="url(#gr)"/>
<circle cx="1144.25" cy="131.58" r="4.7" fill="url(#gr)"/>
<circle cx="1145.41" cy="130.38" r="4.7" fill="url(#gr)"/>
<circle cx="1146.58" cy="132.16" r="4.7" fill="url(#gr)"/>
<circle cx="1147.75" cy="132.74" r="4.7" fill="url(#gr)"/>
<circle cx="1148.92" cy="132.61" r="4.7" fill="url(#gr)"/>
<circle cx="1150.08" cy="132.96" r="4.7" fill="url(#gr)"/>
<circle cx="1151.25" cy="133.11" r="4.7" fill="url(#gr)"/>
<circle cx="1152.42" cy="132.33" r="4.7" fill="url(#gr)"/>
<circle cx="1153.59" cy="133.05" r="4.7" fill="url(#gr)"/>
<circle cx="1154.75" cy="132.18" r="4.7" fill="url(#gr)"/>
<circle cx="1155.92" cy="131.62" r="4.7" fill="url(#gr)"/>
<circle cx="1157.09" cy="132.34" r="4.7" fill="url(#gr)"/>
<circle cx="1158.25" cy="132.36" r="4.7" fill="url(#gr)"/>
<circle cx="1159.42" cy="133.96" r="4.7" fill="url(#gr)"/>
<circle cx="1160.59" cy="133.49" r="4.7" fill="url(#gr)"/>
<circle cx="1161.76" cy="133.25" r="4.7" fill="url(#gr)"/>
<circle cx="1162.92" cy="133.55" r="4.7" fill="url(#gr)"/>
<circle cx="1164.09" cy="132.47" r="4.7" fill="url(#gr)"/>
<circle cx="1165.26" cy="133.57" r="4.7" fill="url(#gr)"/>
<circle cx="1166.42" cy="134.08" r="4.7" fill="url(#gr)"/>
<circle cx="1167.59" cy="133.46" r="4.7" fill="url(#gr)"/>
<circle cx="1168.76" cy="133.21" r="4.7" fill="url(#gr)"/>
<circle cx="1169.93" cy="133.71" r="4.7" fill="url(#gr)"/>
<circle cx="1171.09" cy="133.63" r="4.7" fill="url(#gr)"/>
<circle cx="1172.26" cy="134.61" r="4.7" fill="url(#gr)"/>
<circle cx="1173.43" cy="133.42" r="4.7" fill="url(#gr)"/>
<circle cx="1174.60" cy="133.40" r="4.7" fill="url(#gr)"/>
<circle cx="1175.76" cy="134.05" r="4.7" fill="url(#gr)"/>
<circle cx="1176.93" cy="135.08" r="4.7" fill="url(#gr)"/>
<circle cx="1178.10" cy="135.35" r="4.7" fill="url(#gr)"/>
<circle cx="1179.26" cy="135.22" r="4.7" fill="url(#gr)"/>
<circle cx="1180.43" cy="136.00" r="4.7" fill="url(#gr)"/>
<circle cx="1181.60" cy="134.74" r="4.7" fill="url(#gr)"/>
<circle cx="1182.77" cy="134.05" r="4.7" fill="url(#gr)"/>
<circle cx="1183.93" cy="135.24" r="4.7" fill="url(#gr)"/>
<circle cx="1185.10" cy="135.22" r="4.7" fill="url(#gr)"/>
<circle cx="1186.27" cy="134.67" r="4.7" fill="url(#gr)"/>
<circle cx="1187.43" cy="135.93" r="4.7" fill="url(#gr)"/>
<circle cx="1188.60" cy="135.23" r="4.7" fill="url(#gr)"/>
<circle cx="1189.77" cy="135.07" r="4.7" fill="url(#gr)"/>
<circle cx="1190.94" cy="135.37" r="4.7" fill="url(#gr)"/>
<circle cx="1192.10" cy="136.94" r="4.7" fill="url(#gr)"/>
<circle cx="1193.27" cy="134.78" r="4.7" fill="url(#gr)"/>
<circle cx="1194.44" cy="135.71" r="4.7" fill="url(#gr)"/>
<circle cx="1195.61" cy="135.60" r="4.7" fill="url(#gr)"/>
<circle cx="1196.77" cy="135.50" r="4.7" fill="url(#gr)"/>
<circle cx="1197.94" cy="136.14" r="4.7" fill="url(#gr)"/>
<circle cx="1199.11" cy="135.72" r="4.7" fill="url(#gr)"/>
<circle cx="1200.27" cy="137.48" r="4.7" fill="url(#gr)"/>
<circle cx="1201.44" cy="136.56" r="4.7" fill="url(#gr)"/>
<circle cx="1202.61" cy="137.12" r="4.7" fill="url(#gr)"/>
<circle cx="1203.78" cy="135.92" r="4.7" fill="url(#gr)"/>
<circle cx="1204.94" cy="136.73" r="4.7" fill="url(#gr)"/>
<circle cx="1206.11" cy="137.16" r="4.7" fill="url(#gr)"/>
<circle cx="1207.28" cy="137.81" r="4.7" fill="url(#gr)"/>
<circle cx="1208.44" cy="136.47" r="4.7" fill="url(#gr)"/>
<circle cx="1209.61" cy="137.06" r="4.7" fill="url(#gr)"/>
<circle cx="1210.78" cy="138.10" r="4.7" fill="url(#gr)"/>
<circle cx="1211.95" cy="138.13" r="4.7" fill="url(#gr)"/>
<circle cx="1213.11" cy="136.76" r="4.7" fill="url(#gr)"/>
<circle cx="1214.28" cy="137.60" r="4.7" fill="url(#gr)"/>
<circle cx="1215.45" cy="138.22" r="4.7" fill="url(#gr)"/>
<circle cx="1216.62" cy="137.43" r="4.7" fill="url(#gr)"/>
<circle cx="1217.78" cy="138.18" r="4.7" fill="url(#gr)"/>
<circle cx="1218.95" cy="138.24" r="4.7" fill="url(#gr)"/>
<circle cx="1220.12" cy="139.07" r="4.7" fill="url(#gr)"/>
<circle cx="1221.28" cy="138.25" r="4.7" fill="url(#gr)"/>
<circle cx="1222.45" cy="139.04" r="4.7" fill="url(#gr)"/>
<circle cx="1223.62" cy="138.73" r="4.7" fill="url(#gr)"/>
<circle cx="1224.79" cy="140.13" r="4.7" fill="url(#gr)"/>
<circle cx="1225.95" cy="139.64" r="4.7" fill="url(#gr)"/>
<circle cx="1227.00" cy="142.00" r="4.7" fill="url(#gr)"/>
<circle cx="1227.12" cy="140.47" r="4.7" fill="url(#gr)"/>
<circle cx="1228.29" cy="139.84" r="4.7" fill="url(#gr)"/>
<circle cx="1229.45" cy="139.42" r="4.7" fill="url(#gr)"/>
<circle cx="1230.62" cy="138.72" r="4.7" fill="url(#gr)"/>
<circle cx="1231.79" cy="138.64" r="4.7" fill="url(#gr)"/>
<circle cx="1232.96" cy="139.12" r="4.7" fill="url(#gr)"/>
<circle cx="1234.12" cy="138.45" r="4.7" fill="url(#gr)"/>
<circle cx="1235.29" cy="138.00" r="4.7" fill="url(#gr)"/>
<circle cx="1236.46" cy="139.86" r="4.7" fill="url(#gr)"/>
<circle cx="1237.63" cy="138.66" r="4.7" fill="url(#gr)"/>
<circle cx="1238.79" cy="140.27" r="4.7" fill="url(#gr)"/>
<circle cx="1239.96" cy="139.50" r="4.7" fill="url(#gr)"/>
<circle cx="1241.13" cy="139.05" r="4.7" fill="url(#gr)"/>
<circle cx="1242.29" cy="140.25" r="4.7" fill="url(#gr)"/>
<circle cx="1243.46" cy="140.36" r="4.7" fill="url(#gr)"/>
<circle cx="1244.63" cy="139.02" r="4.7" fill="url(#gr)"/>
<circle cx="1245.80" cy="138.59" r="4.7" fill="url(#gr)"/>
<circle cx="1246.96" cy="139.88" r="4.7" fill="url(#gr)"/>
<circle cx="1248.13" cy="140.40" r="4.7" fill="url(#gr)"/>
<circle cx="1249.30" cy="139.89" r="4.7" fill="url(#gr)"/>
<circle cx="1250.46" cy="140.35" r="4.7" fill="url(#gr)"/>
<circle cx="1251.63" cy="139.51" r="4.7" fill="url(#gr)"/>
<circle cx="1252.80" cy="140.04" r="4.7" fill="url(#gr)"/>
<circle cx="1253.97" cy="139.24" r="4.7" fill="url(#gr)"/>
<circle cx="1255.13" cy="139.63" r="4.7" fill="url(#gr)"/>
<circle cx="1256.30" cy="139.61" r="4.7" fill="url(#gr)"/>
<circle cx="1257.47" cy="139.66" r="4.7" fill="url(#gr)"/>
<circle cx="1258.64" cy="139.74" r="4.7" fill="url(#gr)"/>
<circle cx="1259.80" cy="140.78" r="4.7" fill="url(#gr)"/>
<circle cx="1260.00" cy="142.50" r="4.7" fill="url(#gr)"/>
<circle cx="1260.97" cy="139.31" r="4.7" fill="url(#gr)"/>
<circle cx="1262.14" cy="139.45" r="4.7" fill="url(#gr)"/>
<circle cx="1263.30" cy="139.63" r="4.7" fill="url(#gr)"/>
<circle cx="1264.47" cy="141.40" r="4.7" fill="url(#gr)"/>
<circle cx="1265.64" cy="140.39" r="4.7" fill="url(#gr)"/>
<circle cx="1266.81" cy="139.32" r="4.7" fill="url(#gr)"/>
<circle cx="1267.97" cy="141.25" r="4.7" fill="url(#gr)"/>
<circle cx="1269.14" cy="141.40" r="4.7" fill="url(#gr)"/>
<circle cx="1270.31" cy="141.34" r="4.7" fill="url(#gr)"/>
<circle cx="1271.47" cy="140.28" r="4.7" fill="url(#gr)"/>
<circle cx="1272.64" cy="141.25" r="4.7" fill="url(#gr)"/>
<circle cx="1273.81" cy="140.27" r="4.7" fill="url(#gr)"/>
<circle cx="1274.98" cy="139.93" r="4.7" fill="url(#gr)"/>
<circle cx="1276.14" cy="141.73" r="4.7" fill="url(#gr)"/>
<circle cx="1277.31" cy="141.71" r="4.7" fill="url(#gr)"/>
<circle cx="1278.48" cy="140.28" r="4.7" fill="url(#gr)"/>
<circle cx="1279.65" cy="141.94" r="4.7" fill="url(#gr)"/>
<circle cx="1280.81" cy="139.95" r="4.7" fill="url(#gr)"/>
<circle cx="1281.98" cy="140.69" r="4.7" fill="url(#gr)"/>
<circle cx="1283.15" cy="140.04" r="4.7" fill="url(#gr)"/>
<circle cx="1284.31" cy="140.48" r="4.7" fill="url(#gr)"/>
<circle cx="1285.48" cy="140.52" r="4.7" fill="url(#gr)"/>
<circle cx="1286.65" cy="141.90" r="4.7" fill="url(#gr)"/>
<circle cx="1287.82" cy="140.95" r="4.7" fill="url(#gr)"/>
<circle cx="1288.98" cy="140.76" r="4.7" fill="url(#gr)"/>
<circle cx="1290.15" cy="140.80" r="4.7" fill="url(#gr)"/>
<circle cx="1291.32" cy="141.16" r="4.7" fill="url(#gr)"/>
<circle cx="1292.48" cy="142.54" r="4.7" fill="url(#gr)"/>
<circle cx="1293.00" cy="143.50" r="4.7" fill="url(#gr)"/>
<circle cx="1293.65" cy="141.99" r="4.7" fill="url(#gr)"/>
<circle cx="1294.82" cy="140.84" r="4.7" fill="url(#gr)"/>
<circle cx="1295.99" cy="142.29" r="4.7" fill="url(#gr)"/>
<circle cx="1297.15" cy="142.00" r="4.7" fill="url(#gr)"/>
<circle cx="1298.32" cy="141.87" r="4.7" fill="url(#gr)"/>
<circle cx="1299.49" cy="142.14" r="4.7" fill="url(#gr)"/>
<circle cx="1300.66" cy="142.51" r="4.7" fill="url(#gr)"/>
<circle cx="1301.82" cy="142.95" r="4.7" fill="url(#gr)"/>
<circle cx="1302.99" cy="142.32" r="4.7" fill="url(#gr)"/>
<circle cx="1304.16" cy="142.71" r="4.7" fill="url(#gr)"/>
<circle cx="1305.32" cy="142.39" r="4.7" fill="url(#gr)"/>
<circle cx="1306.49" cy="142.87" r="4.7" fill="url(#gr)"/>
<circle cx="1307.66" cy="142.36" r="4.7" fill="url(#gr)"/>
<circle cx="1308.83" cy="142.50" r="4.7" fill="url(#gr)"/>
<circle cx="1309.99" cy="142.82" r="4.7" fill="url(#gr)"/>
<circle cx="1311.16" cy="143.38" r="4.7" fill="url(#gr)"/>
<circle cx="1312.33" cy="142.41" r="4.7" fill="url(#gr)"/>
<circle cx="1313.49" cy="144.04" r="4.7" fill="url(#gr)"/>
<circle cx="1314.66" cy="143.08" r="4.7" fill="url(#gr)"/>
<circle cx="1315.83" cy="144.03" r="4.7" fill="url(#gr)"/>
<circle cx="1317.00" cy="143.71" r="4.7" fill="url(#gr)"/>
<circle cx="1318.16" cy="144.43" r="4.7" fill="url(#gr)"/>
<circle cx="1319.33" cy="143.85" r="4.7" fill="url(#gr)"/>
<circle cx="1320.50" cy="143.32" r="4.7" fill="url(#gr)"/>
<circle cx="1321.67" cy="143.35" r="4.7" fill="url(#gr)"/>
<circle cx="1322.83" cy="143.91" r="4.7" fill="url(#gr)"/>
<circle cx="1324.00" cy="144.34" r="4.7" fill="url(#gr)"/>
</g>
<path d="M1003.6,166 Q994,173.3 984.5,174" fill="none" stroke="#3d4a94" stroke-width="1.1"/>
<path d="M975.9,174.5 L984.9,171.6 L983.8,174.1 L984.9,176.2 Z" fill="#3d4a94"/>
<path d="M1292.6,77.3 Q1299.5,87.8 1311,91.7" fill="none" stroke="#3d4a94" stroke-width="1.5"/>
<path d="M1321.1,92.7 L1309.9,88.7 L1311.2,92 L1310.5,95.2 Z" fill="#3d4a94"/>
<rect x="973.50" y="40.20" width="350.60" height="272.80" fill="none" stroke="#3c3c3c" stroke-width="1.8"/>
<line x1="973.50" y1="313.00" x2="973.50" y2="318.00" stroke="#3c3c3c" stroke-width="1.8"/>
<text transform="translate(973.50 336.80) scale(1.075 1)" font-size="18" stroke="#000" stroke-width="0.15" text-anchor="middle" fill="#000">0</text>
<line x1="1043.62" y1="313.00" x2="1043.62" y2="318.00" stroke="#3c3c3c" stroke-width="1.8"/>
<text transform="translate(1043.62 336.80) scale(1.075 1)" font-size="18" stroke="#000" stroke-width="0.15" text-anchor="middle" fill="#000">300</text>
<line x1="1113.74" y1="313.00" x2="1113.74" y2="318.00" stroke="#3c3c3c" stroke-width="1.8"/>
<text transform="translate(1113.74 336.80) scale(1.075 1)" font-size="18" stroke="#000" stroke-width="0.15" text-anchor="middle" fill="#000">600</text>
<line x1="1183.86" y1="313.00" x2="1183.86" y2="318.00" stroke="#3c3c3c" stroke-width="1.8"/>
<text transform="translate(1183.86 336.80) scale(1.075 1)" font-size="18" stroke="#000" stroke-width="0.15" text-anchor="middle" fill="#000">900</text>
<line x1="1253.98" y1="313.00" x2="1253.98" y2="318.00" stroke="#3c3c3c" stroke-width="1.8"/>
<text transform="translate(1253.98 336.80) scale(1.075 1)" font-size="18" stroke="#000" stroke-width="0.15" text-anchor="middle" fill="#000">1200</text>
<line x1="1324.10" y1="313.00" x2="1324.10" y2="318.00" stroke="#3c3c3c" stroke-width="1.8"/>
<text transform="translate(1324.10 336.80) scale(1.075 1)" font-size="18" stroke="#000" stroke-width="0.15" text-anchor="middle" fill="#000">1500</text>
<line x1="968.50" y1="40.20" x2="973.50" y2="40.20" stroke="#3c3c3c" stroke-width="1.8"/>
<text transform="translate(963.40 46.20) scale(1.075 1)" font-size="18" stroke="#000" stroke-width="0.15" text-anchor="end" fill="#000">250</text>
<line x1="968.50" y1="94.76" x2="973.50" y2="94.76" stroke="#3c3c3c" stroke-width="1.8"/>
<text transform="translate(963.40 100.76) scale(1.075 1)" font-size="18" stroke="#000" stroke-width="0.15" text-anchor="end" fill="#000">200</text>
<line x1="968.50" y1="149.32" x2="973.50" y2="149.32" stroke="#3c3c3c" stroke-width="1.8"/>
<text transform="translate(963.40 155.32) scale(1.075 1)" font-size="18" stroke="#000" stroke-width="0.15" text-anchor="end" fill="#000">150</text>
<line x1="968.50" y1="203.88" x2="973.50" y2="203.88" stroke="#3c3c3c" stroke-width="1.8"/>
<text transform="translate(963.40 209.88) scale(1.075 1)" font-size="18" stroke="#000" stroke-width="0.15" text-anchor="end" fill="#000">100</text>
<line x1="968.50" y1="258.44" x2="973.50" y2="258.44" stroke="#3c3c3c" stroke-width="1.8"/>
<text transform="translate(963.40 264.44) scale(1.075 1)" font-size="18" stroke="#000" stroke-width="0.15" text-anchor="end" fill="#000">50</text>
<line x1="968.50" y1="313.00" x2="973.50" y2="313.00" stroke="#3c3c3c" stroke-width="1.8"/>
<text transform="translate(963.40 319.00) scale(1.075 1)" font-size="18" stroke="#000" stroke-width="0.15" text-anchor="end" fill="#000">0</text>
<line x1="1324.10" y1="313.00" x2="1329.10" y2="313.00" stroke="#3c3c3c" stroke-width="1.8"/>
<text transform="translate(1333.40 319.00) scale(1.075 1)" font-size="18" stroke="#000" stroke-width="0.15" text-anchor="start" fill="#000">0</text>
<line x1="1324.10" y1="263.38" x2="1329.10" y2="263.38" stroke="#3c3c3c" stroke-width="1.8"/>
<text transform="translate(1333.40 269.38) scale(1.075 1)" font-size="18" stroke="#000" stroke-width="0.15" text-anchor="start" fill="#000">20</text>
<line x1="1324.10" y1="213.76" x2="1329.10" y2="213.76" stroke="#3c3c3c" stroke-width="1.8"/>
<text transform="translate(1333.40 219.76) scale(1.075 1)" font-size="18" stroke="#000" stroke-width="0.15" text-anchor="start" fill="#000">40</text>
<line x1="1324.10" y1="164.14" x2="1329.10" y2="164.14" stroke="#3c3c3c" stroke-width="1.8"/>
<text transform="translate(1333.40 170.14) scale(1.075 1)" font-size="18" stroke="#000" stroke-width="0.15" text-anchor="start" fill="#000">60</text>
<line x1="1324.10" y1="114.52" x2="1329.10" y2="114.52" stroke="#3c3c3c" stroke-width="1.8"/>
<text transform="translate(1333.40 120.52) scale(1.075 1)" font-size="18" stroke="#000" stroke-width="0.15" text-anchor="start" fill="#000">80</text>
<line x1="1324.10" y1="64.90" x2="1329.10" y2="64.90" stroke="#3c3c3c" stroke-width="1.8"/>
<text transform="translate(1333.40 70.90) scale(1.075 1)" font-size="18" stroke="#000" stroke-width="0.15" text-anchor="start" fill="#000">100</text>
<text transform="translate(1148.70 357.00) scale(1.06 1)" font-size="21.8" font-weight="bold" text-anchor="middle" fill="#000">Cycle number</text>
<text transform="translate(925.80 176.60) scale(1.06 1) rotate(-90)" font-size="21.8" font-weight="bold" text-anchor="middle" fill="#000">Discharge capacity (mAh g<tspan font-size="14" dy="-9">-1</tspan><tspan dy="9">)</tspan></text>
<text transform="translate(1381.00 175.20) scale(1.06 1) rotate(-90)" font-size="21.8" font-weight="bold" text-anchor="middle" fill="#000">Coulombic efficiency(%)</text>
<text transform="translate(1044.90 258.00) scale(1.075 1)" font-size="18.5" stroke="#000" stroke-width="0.15" text-anchor="middle" fill="#000">0.5 C 2.7-4.3V</text>
<circle cx="1000.60" cy="276.10" r="4.7" fill="url(#gb)"/>
<circle cx="1000.60" cy="300.20" r="4.7" fill="url(#gr)"/>
<text transform="translate(1050.80 282.70) scale(1.075 1)" font-size="18.5" stroke="#000" stroke-width="0.15" text-anchor="middle" fill="#000">NCM</text>
<text transform="translate(1077.50 306.10) scale(1.075 1)" font-size="18.5" stroke="#000" stroke-width="0.15" text-anchor="middle" fill="#000">NCM@PFE</text>
<text transform="translate(1299.40 170.40) scale(1.075 1)" font-size="18.5" stroke="#d1301f" stroke-width="0.15" text-anchor="middle" fill="#d1301f">83%</text>
<text transform="translate(1299.40 275.10) scale(1.075 1)" font-size="18.5" stroke="#3d4a94" stroke-width="0.15" text-anchor="middle" fill="#3d4a94">36%</text>
<text transform="translate(0.30 393.90) scale(1.075 1)" font-size="26.5" stroke="#000" stroke-width="0.15" text-anchor="start" fill="#000">(d)</text>
<clipPath id="cpd"><rect x="70.7" y="408.6" width="349.7" height="272.69999999999993"/></clipPath>
<g clip-path="url(#cpd)">
<circle cx="72.37" cy="501.88" r="4.6" fill="url(#glb)"/>
<circle cx="74.11" cy="502.96" r="4.6" fill="url(#glb)"/>
<circle cx="75.85" cy="502.99" r="4.6" fill="url(#glb)"/>
<circle cx="77.59" cy="502.84" r="4.6" fill="url(#glb)"/>
<circle cx="79.33" cy="502.50" r="4.6" fill="url(#glb)"/>
<circle cx="81.07" cy="503.67" r="4.6" fill="url(#glb)"/>
<circle cx="82.81" cy="503.83" r="4.6" fill="url(#glb)"/>
<circle cx="84.56" cy="503.43" r="4.6" fill="url(#glb)"/>
<circle cx="86.30" cy="503.55" r="4.6" fill="url(#glb)"/>
<circle cx="88.04" cy="503.20" r="4.6" fill="url(#glb)"/>
<circle cx="89.78" cy="502.92" r="4.6" fill="url(#glb)"/>
<circle cx="91.52" cy="503.71" r="4.6" fill="url(#glb)"/>
<circle cx="93.26" cy="504.23" r="4.6" fill="url(#glb)"/>
<circle cx="95.00" cy="503.43" r="4.6" fill="url(#glb)"/>
<circle cx="96.74" cy="504.87" r="4.6" fill="url(#glb)"/>
<circle cx="98.49" cy="503.99" r="4.6" fill="url(#glb)"/>
<circle cx="100.23" cy="504.13" r="4.6" fill="url(#glb)"/>
<circle cx="101.97" cy="503.92" r="4.6" fill="url(#glb)"/>
<circle cx="103.71" cy="505.77" r="4.6" fill="url(#glb)"/>
<circle cx="105.45" cy="505.44" r="4.6" fill="url(#glb)"/>
<circle cx="107.19" cy="505.81" r="4.6" fill="url(#glb)"/>
<circle cx="108.93" cy="505.45" r="4.6" fill="url(#glb)"/>
<circle cx="110.68" cy="504.49" r="4.6" fill="url(#glb)"/>
<circle cx="112.42" cy="505.10" r="4.6" fill="url(#glb)"/>
<circle cx="114.16" cy="505.49" r="4.6" fill="url(#glb)"/>
<circle cx="115.90" cy="504.88" r="4.6" fill="url(#glb)"/>
<circle cx="117.64" cy="506.47" r="4.6" fill="url(#glb)"/>
<circle cx="119.38" cy="505.50" r="4.6" fill="url(#glb)"/>
<circle cx="121.12" cy="505.20" r="4.6" fill="url(#glb)"/>
<circle cx="122.87" cy="506.47" r="4.6" fill="url(#glb)"/>
<circle cx="124.61" cy="505.31" r="4.6" fill="url(#glb)"/>
<circle cx="126.35" cy="506.84" r="4.6" fill="url(#glb)"/>
<circle cx="128.09" cy="506.06" r="4.6" fill="url(#glb)"/>
<circle cx="129.83" cy="506.32" r="4.6" fill="url(#glb)"/>
<circle cx="131.57" cy="506.03" r="4.6" fill="url(#glb)"/>
<circle cx="133.31" cy="506.37" r="4.6" fill="url(#glb)"/>
<circle cx="135.05" cy="505.91" r="4.6" fill="url(#glb)"/>
<circle cx="136.80" cy="505.73" r="4.6" fill="url(#glb)"/>
<circle cx="138.54" cy="507.30" r="4.6" fill="url(#glb)"/>
<circle cx="140.28" cy="506.25" r="4.6" fill="url(#glb)"/>
<circle cx="142.02" cy="507.31" r="4.6" fill="url(#glb)"/>
<circle cx="143.76" cy="506.36" r="4.6" fill="url(#glb)"/>
<circle cx="145.50" cy="507.82" r="4.6" fill="url(#glb)"/>
<circle cx="147.24" cy="507.77" r="4.6" fill="url(#glb)"/>
<circle cx="148.99" cy="507.61" r="4.6" fill="url(#glb)"/>
<circle cx="150.73" cy="507.72" r="4.6" fill="url(#glb)"/>
<circle cx="152.47" cy="507.48" r="4.6" fill="url(#glb)"/>
<circle cx="154.21" cy="507.84" r="4.6" fill="url(#glb)"/>
<circle cx="155.95" cy="506.84" r="4.6" fill="url(#glb)"/>
<circle cx="157.69" cy="507.57" r="4.6" fill="url(#glb)"/>
<circle cx="159.43" cy="508.29" r="4.6" fill="url(#glb)"/>
<circle cx="161.17" cy="507.25" r="4.6" fill="url(#glb)"/>
<circle cx="162.92" cy="508.64" r="4.6" fill="url(#glb)"/>
<circle cx="164.66" cy="508.67" r="4.6" fill="url(#glb)"/>
<circle cx="166.40" cy="507.90" r="4.6" fill="url(#glb)"/>
<circle cx="168.14" cy="507.91" r="4.6" fill="url(#glb)"/>
<circle cx="169.88" cy="508.16" r="4.6" fill="url(#glb)"/>
<circle cx="171.62" cy="508.13" r="4.6" fill="url(#glb)"/>
<circle cx="173.36" cy="509.32" r="4.6" fill="url(#glb)"/>
<circle cx="175.11" cy="508.32" r="4.6" fill="url(#glb)"/>
<circle cx="176.85" cy="507.76" r="4.6" fill="url(#glb)"/>
<circle cx="178.59" cy="507.97" r="4.6" fill="url(#glb)"/>
<circle cx="180.33" cy="509.19" r="4.6" fill="url(#glb)"/>
<circle cx="182.07" cy="509.78" r="4.6" fill="url(#glb)"/>
<circle cx="183.81" cy="508.97" r="4.6" fill="url(#glb)"/>
<circle cx="185.55" cy="509.08" r="4.6" fill="url(#glb)"/>
<circle cx="187.29" cy="509.32" r="4.6" fill="url(#glb)"/>
<circle cx="189.04" cy="509.80" r="4.6" fill="url(#glb)"/>
<circle cx="190.78" cy="508.98" r="4.6" fill="url(#glb)"/>
<circle cx="192.52" cy="509.81" r="4.6" fill="url(#glb)"/>
<circle cx="194.26" cy="509.84" r="4.6" fill="url(#glb)"/>
<circle cx="196.00" cy="510.09" r="4.6" fill="url(#glb)"/>
<circle cx="197.74" cy="509.42" r="4.6" fill="url(#glb)"/>
<circle cx="199.48" cy="509.53" r="4.6" fill="url(#glb)"/>
<circle cx="201.23" cy="509.98" r="4.6" fill="url(#glb)"/>
<circle cx="202.97" cy="511.15" r="4.6" fill="url(#glb)"/>
<circle cx="204.71" cy="510.24" r="4.6" fill="url(#glb)"/>
<circle cx="206.45" cy="510.81" r="4.6" fill="url(#glb)"/>
<circle cx="208.19" cy="510.42" r="4.6" fill="url(#glb)"/>
<circle cx="209.93" cy="510.18" r="4.6" fill="url(#glb)"/>
<circle cx="211.67" cy="510.24" r="4.6" fill="url(#glb)"/>
<circle cx="213.42" cy="511.72" r="4.6" fill="url(#glb)"/>
<circle cx="215.16" cy="511.78" r="4.6" fill="url(#glb)"/>
<circle cx="216.90" cy="511.18" r="4.6" fill="url(#glb)"/>
<circle cx="218.64" cy="511.87" r="4.6" fill="url(#glb)"/>
<circle cx="220.38" cy="511.98" r="4.6" fill="url(#glb)"/>
<circle cx="222.12" cy="512.51" r="4.6" fill="url(#glb)"/>
<circle cx="223.86" cy="512.82" r="4.6" fill="url(#glb)"/>
<circle cx="225.60" cy="512.02" r="4.6" fill="url(#glb)"/>
<circle cx="227.35" cy="513.27" r="4.6" fill="url(#glb)"/>
<circle cx="229.09" cy="513.42" r="4.6" fill="url(#glb)"/>
<circle cx="230.83" cy="512.95" r="4.6" fill="url(#glb)"/>
<circle cx="232.57" cy="513.68" r="4.6" fill="url(#glb)"/>
<circle cx="234.31" cy="513.17" r="4.6" fill="url(#glb)"/>
<circle cx="236.05" cy="513.17" r="4.6" fill="url(#glb)"/>
<circle cx="237.79" cy="513.13" r="4.6" fill="url(#glb)"/>
<circle cx="238.50" cy="513.30" r="4.6" fill="url(#glb)"/>
<circle cx="239.54" cy="514.47" r="4.6" fill="url(#glb)"/>
<circle cx="241.28" cy="514.97" r="4.6" fill="url(#glb)"/>
<circle cx="243.02" cy="518.58" r="4.6" fill="url(#glb)"/>
<circle cx="244.76" cy="521.12" r="4.6" fill="url(#glb)"/>
<circle cx="246.50" cy="521.31" r="4.6" fill="url(#glb)"/>
<circle cx="248.24" cy="521.03" r="4.6" fill="url(#glb)"/>
<circle cx="249.98" cy="521.90" r="4.6" fill="url(#glb)"/>
<circle cx="251.72" cy="520.32" r="4.6" fill="url(#glb)"/>
<circle cx="253.47" cy="520.52" r="4.6" fill="url(#glb)"/>
<circle cx="255.21" cy="520.40" r="4.6" fill="url(#glb)"/>
<circle cx="256.95" cy="520.46" r="4.6" fill="url(#glb)"/>
<circle cx="258.69" cy="519.84" r="4.6" fill="url(#glb)"/>
<circle cx="260.43" cy="519.77" r="4.6" fill="url(#glb)"/>
<circle cx="262.17" cy="520.43" r="4.6" fill="url(#glb)"/>
<circle cx="263.91" cy="521.61" r="4.6" fill="url(#glb)"/>
<circle cx="265.66" cy="521.94" r="4.6" fill="url(#glb)"/>
<circle cx="267.40" cy="521.68" r="4.6" fill="url(#glb)"/>
<circle cx="269.14" cy="521.38" r="4.6" fill="url(#glb)"/>
<circle cx="270.88" cy="521.14" r="4.6" fill="url(#glb)"/>
<circle cx="272.62" cy="522.59" r="4.6" fill="url(#glb)"/>
<circle cx="274.36" cy="521.98" r="4.6" fill="url(#glb)"/>
<circle cx="276.10" cy="522.52" r="4.6" fill="url(#glb)"/>
<circle cx="277.84" cy="521.44" r="4.6" fill="url(#glb)"/>
<circle cx="279.59" cy="521.94" r="4.6" fill="url(#glb)"/>
<circle cx="281.33" cy="523.24" r="4.6" fill="url(#glb)"/>
<circle cx="283.07" cy="523.34" r="4.6" fill="url(#glb)"/>
<circle cx="284.81" cy="523.67" r="4.6" fill="url(#glb)"/>
<circle cx="286.55" cy="523.34" r="4.6" fill="url(#glb)"/>
<circle cx="288.29" cy="523.20" r="4.6" fill="url(#glb)"/>
<circle cx="290.03" cy="523.65" r="4.6" fill="url(#glb)"/>
<circle cx="291.78" cy="524.31" r="4.6" fill="url(#glb)"/>
<circle cx="293.52" cy="523.51" r="4.6" fill="url(#glb)"/>
<circle cx="295.26" cy="524.09" r="4.6" fill="url(#glb)"/>
<circle cx="297.00" cy="523.80" r="4.6" fill="url(#glb)"/>
<circle cx="298.74" cy="524.86" r="4.6" fill="url(#glb)"/>
<circle cx="300.48" cy="523.67" r="4.6" fill="url(#glb)"/>
<circle cx="302.22" cy="525.06" r="4.6" fill="url(#glb)"/>
<circle cx="303.97" cy="525.71" r="4.6" fill="url(#glb)"/>
<circle cx="305.71" cy="524.21" r="4.6" fill="url(#glb)"/>
<circle cx="307.45" cy="525.41" r="4.6" fill="url(#glb)"/>
<circle cx="309.19" cy="525.68" r="4.6" fill="url(#glb)"/>
<circle cx="310.93" cy="526.23" r="4.6" fill="url(#glb)"/>
<circle cx="312.67" cy="525.92" r="4.6" fill="url(#glb)"/>
<circle cx="314.41" cy="525.50" r="4.6" fill="url(#glb)"/>
<circle cx="316.15" cy="525.95" r="4.6" fill="url(#glb)"/>
<circle cx="317.90" cy="527.12" r="4.6" fill="url(#glb)"/>
<circle cx="319.64" cy="527.19" r="4.6" fill="url(#glb)"/>
<circle cx="321.38" cy="525.98" r="4.6" fill="url(#glb)"/>
<circle cx="323.12" cy="526.08" r="4.6" fill="url(#glb)"/>
<circle cx="324.86" cy="526.26" r="4.6" fill="url(#glb)"/>
<circle cx="326.60" cy="526.31" r="4.6" fill="url(#glb)"/>
<circle cx="328.34" cy="527.24" r="4.6" fill="url(#glb)"/>
<circle cx="330.09" cy="526.86" r="4.6" fill="url(#glb)"/>
<circle cx="331.83" cy="528.34" r="4.6" fill="url(#glb)"/>
<circle cx="333.57" cy="528.14" r="4.6" fill="url(#glb)"/>
<circle cx="335.31" cy="527.36" r="4.6" fill="url(#glb)"/>
<circle cx="337.05" cy="528.27" r="4.6" fill="url(#glb)"/>
<circle cx="338.79" cy="528.06" r="4.6" fill="url(#glb)"/>
<circle cx="340.53" cy="528.54" r="4.6" fill="url(#glb)"/>
<circle cx="341.00" cy="527.50" r="4.6" fill="url(#glb)"/>
<circle cx="342.27" cy="528.22" r="4.6" fill="url(#glb)"/>
<circle cx="344.02" cy="528.30" r="4.6" fill="url(#glb)"/>
<circle cx="345.76" cy="528.51" r="4.6" fill="url(#glb)"/>
<circle cx="347.50" cy="529.03" r="4.6" fill="url(#glb)"/>
<circle cx="349.24" cy="529.80" r="4.6" fill="url(#glb)"/>
<circle cx="350.98" cy="529.69" r="4.6" fill="url(#glb)"/>
<circle cx="352.72" cy="528.96" r="4.6" fill="url(#glb)"/>
<circle cx="354.46" cy="530.33" r="4.6" fill="url(#glb)"/>
<circle cx="356.21" cy="530.79" r="4.6" fill="url(#glb)"/>
<circle cx="357.95" cy="530.79" r="4.6" fill="url(#glb)"/>
<circle cx="359.69" cy="530.99" r="4.6" fill="url(#glb)"/>
<circle cx="361.43" cy="529.76" r="4.6" fill="url(#glb)"/>
<circle cx="363.17" cy="530.75" r="4.6" fill="url(#glb)"/>
<circle cx="364.91" cy="530.21" r="4.6" fill="url(#glb)"/>
<circle cx="366.65" cy="531.64" r="4.6" fill="url(#glb)"/>
<circle cx="368.39" cy="530.76" r="4.6" fill="url(#glb)"/>
<circle cx="370.14" cy="531.89" r="4.6" fill="url(#glb)"/>
<circle cx="371.88" cy="531.24" r="4.6" fill="url(#glb)"/>
<circle cx="373.62" cy="532.26" r="4.6" fill="url(#glb)"/>
<circle cx="375.36" cy="531.88" r="4.6" fill="url(#glb)"/>
<circle cx="377.10" cy="531.69" r="4.6" fill="url(#glb)"/>
<circle cx="378.84" cy="532.62" r="4.6" fill="url(#glb)"/>
<circle cx="380.58" cy="532.79" r="4.6" fill="url(#glb)"/>
<circle cx="382.33" cy="534.16" r="4.6" fill="url(#glb)"/>
<circle cx="384.07" cy="533.37" r="4.6" fill="url(#glb)"/>
<circle cx="385.81" cy="534.05" r="4.6" fill="url(#glb)"/>
<circle cx="387.55" cy="534.44" r="4.6" fill="url(#glb)"/>
<circle cx="389.29" cy="535.46" r="4.6" fill="url(#glb)"/>
<circle cx="391.03" cy="534.24" r="4.6" fill="url(#glb)"/>
<circle cx="392.77" cy="535.45" r="4.6" fill="url(#glb)"/>
<circle cx="394.52" cy="535.59" r="4.6" fill="url(#glb)"/>
<circle cx="396.26" cy="536.30" r="4.6" fill="url(#glb)"/>
<circle cx="398.00" cy="537.03" r="4.6" fill="url(#glb)"/>
<circle cx="399.74" cy="536.15" r="4.6" fill="url(#glb)"/>
<circle cx="401.48" cy="537.15" r="4.6" fill="url(#glb)"/>
<circle cx="403.22" cy="537.15" r="4.6" fill="url(#glb)"/>
<circle cx="404.96" cy="537.52" r="4.6" fill="url(#glb)"/>
<circle cx="406.00" cy="537.20" r="4.6" fill="url(#glb)"/>
<circle cx="406.70" cy="536.96" r="4.6" fill="url(#glb)"/>
<circle cx="408.45" cy="539.76" r="4.6" fill="url(#glb)"/>
<circle cx="410.19" cy="544.69" r="4.6" fill="url(#glb)"/>
<circle cx="411.93" cy="546.11" r="4.6" fill="url(#glb)"/>
<circle cx="413.67" cy="546.74" r="4.6" fill="url(#glb)"/>
<circle cx="415.41" cy="548.65" r="4.6" fill="url(#glb)"/>
<circle cx="417.15" cy="547.75" r="4.6" fill="url(#glb)"/>
<circle cx="418.89" cy="548.39" r="4.6" fill="url(#glb)"/>
<circle cx="72.37" cy="486.49" r="4.6" fill="url(#glr)"/>
<circle cx="74.11" cy="484.84" r="4.6" fill="url(#glr)"/>
<circle cx="75.85" cy="484.59" r="4.6" fill="url(#glr)"/>
<circle cx="77.59" cy="486.52" r="4.6" fill="url(#glr)"/>
<circle cx="79.33" cy="484.87" r="4.6" fill="url(#glr)"/>
<circle cx="81.07" cy="484.72" r="4.6" fill="url(#glr)"/>
<circle cx="82.81" cy="485.77" r="4.6" fill="url(#glr)"/>
<circle cx="84.56" cy="485.14" r="4.6" fill="url(#glr)"/>
<circle cx="86.30" cy="486.21" r="4.6" fill="url(#glr)"/>
<circle cx="88.04" cy="484.87" r="4.6" fill="url(#glr)"/>
<circle cx="89.78" cy="486.31" r="4.6" fill="url(#glr)"/>
<circle cx="91.52" cy="485.01" r="4.6" fill="url(#glr)"/>
<circle cx="93.26" cy="485.56" r="4.6" fill="url(#glr)"/>
<circle cx="95.00" cy="486.20" r="4.6" fill="url(#glr)"/>
<circle cx="96.74" cy="485.69" r="4.6" fill="url(#glr)"/>
<circle cx="98.49" cy="486.15" r="4.6" fill="url(#glr)"/>
<circle cx="100.23" cy="485.70" r="4.6" fill="url(#glr)"/>
<circle cx="101.97" cy="484.36" r="4.6" fill="url(#glr)"/>
<circle cx="103.71" cy="486.01" r="4.6" fill="url(#glr)"/>
<circle cx="105.45" cy="485.41" r="4.6" fill="url(#glr)"/>
<circle cx="107.19" cy="484.83" r="4.6" fill="url(#glr)"/>
<circle cx="108.93" cy="484.65" r="4.6" fill="url(#glr)"/>
<circle cx="110.68" cy="486.10" r="4.6" fill="url(#glr)"/>
<circle cx="112.42" cy="485.69" r="4.6" fill="url(#glr)"/>
<circle cx="114.16" cy="486.53" r="4.6" fill="url(#glr)"/>
<circle cx="115.90" cy="486.33" r="4.6" fill="url(#glr)"/>
<circle cx="117.64" cy="486.83" r="4.6" fill="url(#glr)"/>
<circle cx="119.38" cy="486.17" r="4.6" fill="url(#glr)"/>
<circle cx="121.12" cy="486.56" r="4.6" fill="url(#glr)"/>
<circle cx="122.87" cy="486.52" r="4.6" fill="url(#glr)"/>
<circle cx="124.61" cy="485.94" r="4.6" fill="url(#glr)"/>
<circle cx="126.35" cy="487.46" r="4.6" fill="url(#glr)"/>
<circle cx="128.09" cy="486.30" r="4.6" fill="url(#glr)"/>
<circle cx="129.83" cy="487.37" r="4.6" fill="url(#glr)"/>
<circle cx="131.57" cy="487.84" r="4.6" fill="url(#glr)"/>
<circle cx="133.31" cy="487.36" r="4.6" fill="url(#glr)"/>
<circle cx="135.05" cy="486.47" r="4.6" fill="url(#glr)"/>
<circle cx="136.80" cy="487.97" r="4.6" fill="url(#glr)"/>
<circle cx="138.54" cy="487.78" r="4.6" fill="url(#glr)"/>
<circle cx="140.28" cy="486.94" r="4.6" fill="url(#glr)"/>
<circle cx="142.02" cy="486.80" r="4.6" fill="url(#glr)"/>
<circle cx="143.76" cy="487.89" r="4.6" fill="url(#glr)"/>
<circle cx="145.50" cy="487.02" r="4.6" fill="url(#glr)"/>
<circle cx="147.24" cy="488.73" r="4.6" fill="url(#glr)"/>
<circle cx="148.99" cy="487.71" r="4.6" fill="url(#glr)"/>
<circle cx="150.73" cy="487.55" r="4.6" fill="url(#glr)"/>
<circle cx="152.47" cy="487.15" r="4.6" fill="url(#glr)"/>
<circle cx="154.21" cy="487.47" r="4.6" fill="url(#glr)"/>
<circle cx="155.95" cy="488.11" r="4.6" fill="url(#glr)"/>
<circle cx="157.69" cy="488.27" r="4.6" fill="url(#glr)"/>
<circle cx="159.43" cy="489.77" r="4.6" fill="url(#glr)"/>
<circle cx="161.17" cy="491.57" r="4.6" fill="url(#glr)"/>
<circle cx="162.92" cy="491.11" r="4.6" fill="url(#glr)"/>
<circle cx="164.66" cy="491.72" r="4.6" fill="url(#glr)"/>
<circle cx="166.40" cy="491.62" r="4.6" fill="url(#glr)"/>
<circle cx="168.14" cy="491.42" r="4.6" fill="url(#glr)"/>
<circle cx="169.88" cy="491.91" r="4.6" fill="url(#glr)"/>
<circle cx="171.62" cy="491.63" r="4.6" fill="url(#glr)"/>
<circle cx="173.36" cy="490.76" r="4.6" fill="url(#glr)"/>
<circle cx="175.11" cy="492.59" r="4.6" fill="url(#glr)"/>
<circle cx="176.85" cy="491.32" r="4.6" fill="url(#glr)"/>
<circle cx="178.59" cy="491.49" r="4.6" fill="url(#glr)"/>
<circle cx="180.33" cy="491.44" r="4.6" fill="url(#glr)"/>
<circle cx="182.07" cy="492.51" r="4.6" fill="url(#glr)"/>
<circle cx="183.81" cy="492.57" r="4.6" fill="url(#glr)"/>
<circle cx="185.55" cy="491.70" r="4.6" fill="url(#glr)"/>
<circle cx="187.29" cy="491.49" r="4.6" fill="url(#glr)"/>
<circle cx="189.04" cy="490.89" r="4.6" fill="url(#glr)"/>
<circle cx="190.78" cy="492.50" r="4.6" fill="url(#glr)"/>
<circle cx="192.52" cy="491.07" r="4.6" fill="url(#glr)"/>
<circle cx="194.26" cy="491.83" r="4.6" fill="url(#glr)"/>
<circle cx="196.00" cy="491.45" r="4.6" fill="url(#glr)"/>
<circle cx="197.74" cy="491.42" r="4.6" fill="url(#glr)"/>
<circle cx="199.48" cy="491.49" r="4.6" fill="url(#glr)"/>
<circle cx="201.23" cy="491.17" r="4.6" fill="url(#glr)"/>
<circle cx="202.97" cy="490.87" r="4.6" fill="url(#glr)"/>
<circle cx="204.71" cy="491.96" r="4.6" fill="url(#glr)"/>
<circle cx="206.45" cy="492.59" r="4.6" fill="url(#glr)"/>
<circle cx="208.19" cy="492.40" r="4.6" fill="url(#glr)"/>
<circle cx="209.93" cy="491.61" r="4.6" fill="url(#glr)"/>
<circle cx="211.67" cy="492.70" r="4.6" fill="url(#glr)"/>
<circle cx="213.42" cy="491.52" r="4.6" fill="url(#glr)"/>
<circle cx="215.16" cy="492.35" r="4.6" fill="url(#glr)"/>
<circle cx="216.90" cy="493.29" r="4.6" fill="url(#glr)"/>
<circle cx="218.64" cy="493.58" r="4.6" fill="url(#glr)"/>
<circle cx="220.38" cy="492.76" r="4.6" fill="url(#glr)"/>
<circle cx="222.12" cy="493.64" r="4.6" fill="url(#glr)"/>
<circle cx="223.86" cy="493.05" r="4.6" fill="url(#glr)"/>
<circle cx="225.60" cy="493.21" r="4.6" fill="url(#glr)"/>
<circle cx="227.35" cy="493.43" r="4.6" fill="url(#glr)"/>
<circle cx="229.09" cy="494.35" r="4.6" fill="url(#glr)"/>
<circle cx="230.83" cy="493.96" r="4.6" fill="url(#glr)"/>
<circle cx="232.57" cy="493.53" r="4.6" fill="url(#glr)"/>
<circle cx="234.31" cy="494.14" r="4.6" fill="url(#glr)"/>
<circle cx="236.05" cy="494.08" r="4.6" fill="url(#glr)"/>
<circle cx="237.79" cy="493.60" r="4.6" fill="url(#glr)"/>
<circle cx="239.54" cy="494.60" r="4.6" fill="url(#glr)"/>
<circle cx="241.28" cy="496.28" r="4.6" fill="url(#glr)"/>
<circle cx="243.02" cy="497.47" r="4.6" fill="url(#glr)"/>
<circle cx="244.76" cy="498.50" r="4.6" fill="url(#glr)"/>
<circle cx="246.50" cy="496.52" r="4.6" fill="url(#glr)"/>
<circle cx="248.24" cy="497.36" r="4.6" fill="url(#glr)"/>
<circle cx="249.98" cy="497.51" r="4.6" fill="url(#glr)"/>
<circle cx="251.72" cy="496.80" r="4.6" fill="url(#glr)"/>
<circle cx="253.47" cy="496.34" r="4.6" fill="url(#glr)"/>
<circle cx="255.21" cy="497.25" r="4.6" fill="url(#glr)"/>
<circle cx="256.95" cy="496.61" r="4.6" fill="url(#glr)"/>
<circle cx="258.69" cy="496.16" r="4.6" fill="url(#glr)"/>
<circle cx="260.43" cy="495.97" r="4.6" fill="url(#glr)"/>
<circle cx="262.17" cy="498.17" r="4.6" fill="url(#glr)"/>
<circle cx="263.91" cy="497.29" r="4.6" fill="url(#glr)"/>
<circle cx="265.66" cy="497.17" r="4.6" fill="url(#glr)"/>
<circle cx="267.40" cy="497.71" r="4.6" fill="url(#glr)"/>
<circle cx="269.14" cy="498.14" r="4.6" fill="url(#glr)"/>
<circle cx="270.88" cy="499.19" r="4.6" fill="url(#glr)"/>
<circle cx="272.62" cy="497.14" r="4.6" fill="url(#glr)"/>
<circle cx="274.36" cy="496.66" r="4.6" fill="url(#glr)"/>
<circle cx="276.10" cy="495.62" r="4.6" fill="url(#glr)"/>
<circle cx="277.84" cy="496.33" r="4.6" fill="url(#glr)"/>
<circle cx="279.59" cy="496.84" r="4.6" fill="url(#glr)"/>
<circle cx="281.00" cy="504.00" r="4.6" fill="url(#glr)"/>
<circle cx="281.33" cy="498.15" r="4.6" fill="url(#glr)"/>
<circle cx="283.07" cy="499.97" r="4.6" fill="url(#glr)"/>
<circle cx="284.00" cy="506.00" r="4.6" fill="url(#glr)"/>
<circle cx="284.81" cy="501.28" r="4.6" fill="url(#glr)"/>
<circle cx="286.55" cy="501.63" r="4.6" fill="url(#glr)"/>
<circle cx="288.29" cy="500.58" r="4.6" fill="url(#glr)"/>
<circle cx="290.00" cy="507.50" r="4.6" fill="url(#glr)"/>
<circle cx="290.03" cy="501.79" r="4.6" fill="url(#glr)"/>
<circle cx="291.78" cy="503.27" r="4.6" fill="url(#glr)"/>
<circle cx="293.52" cy="502.18" r="4.6" fill="url(#glr)"/>
<circle cx="294.00" cy="508.50" r="4.6" fill="url(#glr)"/>
<circle cx="295.26" cy="500.51" r="4.6" fill="url(#glr)"/>
<circle cx="297.00" cy="498.57" r="4.6" fill="url(#glr)"/>
<circle cx="298.74" cy="495.85" r="4.6" fill="url(#glr)"/>
<circle cx="300.48" cy="496.27" r="4.6" fill="url(#glr)"/>
<circle cx="302.22" cy="495.97" r="4.6" fill="url(#glr)"/>
<circle cx="303.97" cy="495.22" r="4.6" fill="url(#glr)"/>
<circle cx="304.50" cy="492.50" r="4.6" fill="url(#glr)"/>
<circle cx="305.71" cy="494.55" r="4.6" fill="url(#glr)"/>
<circle cx="307.45" cy="494.27" r="4.6" fill="url(#glr)"/>
<circle cx="309.19" cy="494.10" r="4.6" fill="url(#glr)"/>
<circle cx="310.93" cy="493.55" r="4.6" fill="url(#glr)"/>
<circle cx="312.67" cy="494.64" r="4.6" fill="url(#glr)"/>
<circle cx="314.00" cy="490.50" r="4.6" fill="url(#glr)"/>
<circle cx="314.41" cy="493.51" r="4.6" fill="url(#glr)"/>
<circle cx="316.15" cy="494.86" r="4.6" fill="url(#glr)"/>
<circle cx="317.90" cy="494.26" r="4.6" fill="url(#glr)"/>
<circle cx="319.64" cy="492.97" r="4.6" fill="url(#glr)"/>
<circle cx="321.38" cy="494.19" r="4.6" fill="url(#glr)"/>
<circle cx="322.00" cy="491.00" r="4.6" fill="url(#glr)"/>
<circle cx="323.12" cy="495.17" r="4.6" fill="url(#glr)"/>
<circle cx="324.86" cy="494.82" r="4.6" fill="url(#glr)"/>
<circle cx="326.60" cy="496.49" r="4.6" fill="url(#glr)"/>
<circle cx="328.34" cy="495.58" r="4.6" fill="url(#glr)"/>
<circle cx="330.09" cy="495.74" r="4.6" fill="url(#glr)"/>
<circle cx="331.83" cy="492.91" r="4.6" fill="url(#glr)"/>
<circle cx="333.57" cy="492.86" r="4.6" fill="url(#glr)"/>
<circle cx="335.31" cy="492.31" r="4.6" fill="url(#glr)"/>
<circle cx="337.05" cy="490.92" r="4.6" fill="url(#glr)"/>
<circle cx="338.79" cy="488.58" r="4.6" fill="url(#glr)"/>
<circle cx="340.00" cy="485.20" r="4.6" fill="url(#glr)"/>
<circle cx="340.53" cy="488.07" r="4.6" fill="url(#glr)"/>
<circle cx="342.27" cy="486.37" r="4.6" fill="url(#glr)"/>
<circle cx="343.00" cy="484.80" r="4.6" fill="url(#glr)"/>
<circle cx="344.02" cy="487.66" r="4.6" fill="url(#glr)"/>
<circle cx="345.76" cy="489.59" r="4.6" fill="url(#glr)"/>
<circle cx="346.00" cy="497.00" r="4.6" fill="url(#glr)"/>
<circle cx="347.50" cy="490.38" r="4.6" fill="url(#glr)"/>
<circle cx="349.00" cy="498.00" r="4.6" fill="url(#glr)"/>
<circle cx="349.24" cy="488.41" r="4.6" fill="url(#glr)"/>
<circle cx="350.98" cy="488.29" r="4.6" fill="url(#glr)"/>
<circle cx="352.00" cy="484.80" r="4.6" fill="url(#glr)"/>
<circle cx="352.72" cy="487.95" r="4.6" fill="url(#glr)"/>
<circle cx="354.46" cy="486.16" r="4.6" fill="url(#glr)"/>
<circle cx="356.00" cy="485.60" r="4.6" fill="url(#glr)"/>
<circle cx="356.21" cy="489.87" r="4.6" fill="url(#glr)"/>
<circle cx="357.95" cy="494.40" r="4.6" fill="url(#glr)"/>
<circle cx="359.69" cy="495.83" r="4.6" fill="url(#glr)"/>
<circle cx="361.43" cy="495.85" r="4.6" fill="url(#glr)"/>
<circle cx="363.17" cy="497.23" r="4.6" fill="url(#glr)"/>
<circle cx="364.91" cy="496.96" r="4.6" fill="url(#glr)"/>
<circle cx="366.65" cy="496.71" r="4.6" fill="url(#glr)"/>
<circle cx="368.39" cy="497.29" r="4.6" fill="url(#glr)"/>
<circle cx="370.14" cy="497.42" r="4.6" fill="url(#glr)"/>
<circle cx="371.88" cy="498.81" r="4.6" fill="url(#glr)"/>
<circle cx="373.62" cy="498.19" r="4.6" fill="url(#glr)"/>
<circle cx="375.36" cy="498.59" r="4.6" fill="url(#glr)"/>
<circle cx="377.10" cy="498.86" r="4.6" fill="url(#glr)"/>
<circle cx="378.84" cy="499.21" r="4.6" fill="url(#glr)"/>
<circle cx="380.58" cy="497.67" r="4.6" fill="url(#glr)"/>
<circle cx="382.33" cy="498.14" r="4.6" fill="url(#glr)"/>
<circle cx="384.07" cy="499.10" r="4.6" fill="url(#glr)"/>
<circle cx="385.81" cy="498.91" r="4.6" fill="url(#glr)"/>
<circle cx="387.55" cy="498.19" r="4.6" fill="url(#glr)"/>
<circle cx="389.29" cy="498.76" r="4.6" fill="url(#glr)"/>
<circle cx="391.03" cy="497.87" r="4.6" fill="url(#glr)"/>
<circle cx="392.77" cy="497.90" r="4.6" fill="url(#glr)"/>
<circle cx="394.52" cy="497.84" r="4.6" fill="url(#glr)"/>
<circle cx="396.26" cy="498.66" r="4.6" fill="url(#glr)"/>
<circle cx="398.00" cy="498.53" r="4.6" fill="url(#glr)"/>
<circle cx="399.74" cy="499.26" r="4.6" fill="url(#glr)"/>
<circle cx="401.48" cy="500.33" r="4.6" fill="url(#glr)"/>
<circle cx="403.22" cy="498.86" r="4.6" fill="url(#glr)"/>
<circle cx="404.96" cy="499.83" r="4.6" fill="url(#glr)"/>
<circle cx="406.70" cy="500.61" r="4.6" fill="url(#glr)"/>
<circle cx="408.45" cy="500.49" r="4.6" fill="url(#glr)"/>
<circle cx="410.19" cy="501.51" r="4.6" fill="url(#glr)"/>
<circle cx="411.93" cy="502.58" r="4.6" fill="url(#glr)"/>
<circle cx="413.67" cy="501.18" r="4.6" fill="url(#glr)"/>
<circle cx="415.41" cy="503.12" r="4.6" fill="url(#glr)"/>
<circle cx="417.15" cy="502.68" r="4.6" fill="url(#glr)"/>
<circle cx="418.89" cy="503.01" r="4.6" fill="url(#glr)"/>
<path d="M73.70,450.90 L81.80,464.70 L65.60,464.70 Z" fill="#d1301f"/>
<path d="M73.70,476.60 L81.80,489.80 L65.60,489.80 Z" fill="#3d4a94"/>
<path d="M242.30,450.90 L250.40,464.50 L234.20,464.50 Z" fill="#d1301f"/>
<path d="M242.30,478.50 L250.40,491.80 L234.20,491.80 Z" fill="#3d4a94"/>
<path d="M409.80,450.50 L417.90,464.60 L401.70,464.60 Z" fill="#d1301f"/>
<path d="M409.80,485.20 L417.90,498.90 L401.70,498.90 Z" fill="#3d4a94"/>
</g>
<rect x="70.70" y="408.60" width="349.70" height="272.70" fill="none" stroke="#000" stroke-width="1.4"/>
<line x1="70.70" y1="681.30" x2="70.70" y2="686.30" stroke="#000" stroke-width="1.4"/>
<text transform="translate(70.70 704.20) scale(1.075 1)" font-size="18" stroke="#000" stroke-width="0.15" text-anchor="middle" fill="#000">0</text>
<line x1="137.34" y1="681.30" x2="137.34" y2="686.30" stroke="#000" stroke-width="1.4"/>
<text transform="translate(137.34 704.20) scale(1.075 1)" font-size="18" stroke="#000" stroke-width="0.15" text-anchor="middle" fill="#000">40</text>
<line x1="203.98" y1="681.30" x2="203.98" y2="686.30" stroke="#000" stroke-width="1.4"/>
<text transform="translate(203.98 704.20) scale(1.075 1)" font-size="18" stroke="#000" stroke-width="0.15" text-anchor="middle" fill="#000">80</text>
<line x1="270.62" y1="681.30" x2="270.62" y2="686.30" stroke="#000" stroke-width="1.4"/>
<text transform="translate(270.62 704.20) scale(1.075 1)" font-size="18" stroke="#000" stroke-width="0.15" text-anchor="middle" fill="#000">120</text>
<line x1="337.26" y1="681.30" x2="337.26" y2="686.30" stroke="#000" stroke-width="1.4"/>
<text transform="translate(337.26 704.20) scale(1.075 1)" font-size="18" stroke="#000" stroke-width="0.15" text-anchor="middle" fill="#000">160</text>
<line x1="403.90" y1="681.30" x2="403.90" y2="686.30" stroke="#000" stroke-width="1.4"/>
<text transform="translate(403.90 704.20) scale(1.075 1)" font-size="18" stroke="#000" stroke-width="0.15" text-anchor="middle" fill="#000">200</text>
<line x1="65.70" y1="408.60" x2="70.70" y2="408.60" stroke="#000" stroke-width="1.4"/>
<text transform="translate(60.30 414.60) scale(1.075 1)" font-size="18" stroke="#000" stroke-width="0.15" text-anchor="end" fill="#000">250</text>
<line x1="65.70" y1="463.14" x2="70.70" y2="463.14" stroke="#000" stroke-width="1.4"/>
<text transform="translate(60.30 469.14) scale(1.075 1)" font-size="18" stroke="#000" stroke-width="0.15" text-anchor="end" fill="#000">200</text>
<line x1="65.70" y1="517.68" x2="70.70" y2="517.68" stroke="#000" stroke-width="1.4"/>
<text transform="translate(60.30 523.68) scale(1.075 1)" font-size="18" stroke="#000" stroke-width="0.15" text-anchor="end" fill="#000">150</text>
<line x1="65.70" y1="572.22" x2="70.70" y2="572.22" stroke="#000" stroke-width="1.4"/>
<text transform="translate(60.30 578.22) scale(1.075 1)" font-size="18" stroke="#000" stroke-width="0.15" text-anchor="end" fill="#000">100</text>
<line x1="65.70" y1="626.76" x2="70.70" y2="626.76" stroke="#000" stroke-width="1.4"/>
<text transform="translate(60.30 632.76) scale(1.075 1)" font-size="18" stroke="#000" stroke-width="0.15" text-anchor="end" fill="#000">50</text>
<line x1="65.70" y1="681.30" x2="70.70" y2="681.30" stroke="#000" stroke-width="1.4"/>
<text transform="translate(60.30 687.30) scale(1.075 1)" font-size="18" stroke="#000" stroke-width="0.15" text-anchor="end" fill="#000">0</text>
<text transform="translate(246.50 724.00) scale(1.06 1)" font-size="21.8" font-weight="bold" text-anchor="middle" fill="#000">Cycle number</text>
<text transform="translate(24.30 544.50) scale(1.06 1) rotate(-90)" font-size="22.2" font-weight="bold" text-anchor="middle" fill="#000">Discharge capacity (mAh g<tspan font-size="14" dy="-9">-1</tspan><tspan dy="9">)</tspan></text>
<text transform="translate(124.00 572.50) scale(1.075 1)" font-size="18.5" stroke="#000" stroke-width="0.15" text-anchor="middle" fill="#000">2.7-4.3V</text>
<path d="M97.60,586.40 L103.80,597.80 L91.40,597.80 Z" fill="#000"/>
<text transform="translate(154.10 597.20) scale(1.075 1)" font-size="18.5" stroke="#000" stroke-width="0.15" text-anchor="middle" fill="#000">0.02 C</text>
<circle cx="97.2" cy="615.9" r="4.7" fill="#000"/>
<text transform="translate(149.00 621.60) scale(1.075 1)" font-size="18.5" stroke="#000" stroke-width="0.15" text-anchor="middle" fill="#000">0.5 C</text>
<circle cx="97.20" cy="641.00" r="4.7" fill="url(#glb)"/>
<circle cx="97.20" cy="665.00" r="4.7" fill="url(#glr)"/>
<text transform="translate(147.60 647.30) scale(1.075 1)" font-size="18.5" stroke="#000" stroke-width="0.15" text-anchor="middle" fill="#000">NCM</text>
<text transform="translate(173.70 670.50) scale(1.075 1)" font-size="18.5" stroke="#000" stroke-width="0.15" text-anchor="middle" fill="#000">NCM@PFE</text>
<text transform="translate(452.00 394.00) scale(1.075 1)" font-size="26.5" stroke="#000" stroke-width="0.15" text-anchor="start" fill="#000">(e)</text>
<rect x="654.50" y="573.00" width="148.00" height="109.20" fill="#ecedf7"/>
<rect x="534.40" y="653.40" width="45.40" height="28.80" fill="#d5d8eb"/>
<rect x="802.40" y="440.40" width="45.40" height="241.80" fill="#dfe1f0"/>
<path d="M524.20,682.20 C527.17,682.08 538.03,682.12 542.00,681.50 C545.97,680.88 545.95,679.65 548.00,678.50 C550.05,677.35 552.30,674.85 554.30,674.60 C556.30,674.35 557.88,676.02 560.00,677.00 C562.12,677.98 564.50,679.80 567.00,680.50 C569.50,681.20 572.17,681.37 575.00,681.20 C577.83,681.03 580.97,680.10 584.00,679.50 C587.03,678.90 589.53,677.97 593.20,677.60 C596.87,677.23 601.67,677.38 606.00,677.30 C610.33,677.22 614.87,677.40 619.20,677.10 C623.53,676.80 627.87,676.07 632.00,675.50 C636.13,674.93 640.25,674.12 644.00,673.70 C647.75,673.28 648.40,674.03 654.50,673.00 C660.60,671.97 672.85,669.62 680.60,667.50 C688.35,665.38 694.43,662.63 701.00,660.30 C707.57,657.97 712.87,655.72 720.00,653.50 C727.13,651.28 738.47,648.00 743.80,647.00 C749.13,646.00 749.30,647.33 752.00,647.50 C754.70,647.67 757.00,648.75 760.00,648.00 C763.00,647.25 766.93,644.35 770.00,643.00 C773.07,641.65 775.73,639.57 778.40,639.90 C781.07,640.23 783.23,641.65 786.00,645.00 C788.77,648.35 792.35,656.08 795.00,660.00 C797.65,663.92 800.07,667.67 801.90,668.50 C803.73,669.33 804.48,668.58 806.00,665.00 C807.52,661.42 809.50,652.50 811.00,647.00 C812.50,641.50 813.83,635.47 815.00,632.00 C816.17,628.53 816.83,626.03 818.00,626.20 C819.17,626.37 820.53,628.73 822.00,633.00 C823.47,637.27 825.30,646.47 826.80,651.80 C828.30,657.13 829.53,661.18 831.00,665.00 C832.47,668.82 833.67,671.90 835.60,674.70 C837.53,677.50 840.20,680.55 842.60,681.80 C845.00,683.05 844.53,682.13 850.00,682.20 C855.47,682.27 871.17,682.20 875.40,682.20" fill="none" stroke="#b3b9de" stroke-width="2.2" stroke-linejoin="round"/>
<path d="M524.20,682.20 C526.83,682.13 536.37,682.33 540.00,681.80 C543.63,681.27 544.17,680.80 546.00,679.00 C547.83,677.20 549.05,673.47 551.00,671.00 C552.95,668.53 555.70,664.53 557.70,664.20 C559.70,663.87 561.12,666.87 563.00,669.00 C564.88,671.13 566.85,675.13 569.00,677.00 C571.15,678.87 573.57,680.12 575.90,680.20 C578.23,680.28 580.65,678.70 583.00,677.50 C585.35,676.30 587.43,674.13 590.00,673.00 C592.57,671.87 595.73,670.95 598.40,670.70 C601.07,670.45 603.27,671.22 606.00,671.50 C608.73,671.78 610.80,672.82 614.80,672.40 C618.80,671.98 625.13,670.15 630.00,669.00 C634.87,667.85 639.92,666.33 644.00,665.50 C648.08,664.67 648.40,665.42 654.50,664.00 C660.60,662.58 672.85,659.33 680.60,657.00 C688.35,654.67 694.43,652.00 701.00,650.00 C707.57,648.00 712.87,646.75 720.00,645.00 C727.13,643.25 738.47,640.30 743.80,639.50 C749.13,638.70 749.30,639.97 752.00,640.20 C754.70,640.43 757.33,641.77 760.00,640.90 C762.67,640.03 765.50,637.98 768.00,635.00 C770.50,632.02 772.75,625.85 775.00,623.00 C777.25,620.15 779.33,617.73 781.50,617.90 C783.67,618.07 785.58,620.32 788.00,624.00 C790.42,627.68 794.00,635.67 796.00,640.00 C798.00,644.33 798.55,647.75 800.00,650.00 C801.45,652.25 803.37,654.33 804.70,653.50 C806.03,652.67 806.78,649.75 808.00,645.00 C809.22,640.25 810.75,632.50 812.00,625.00 C813.25,617.50 814.33,607.83 815.50,600.00 C816.67,592.17 817.85,582.90 819.00,578.00 C820.15,573.10 821.23,569.43 822.40,570.60 C823.57,571.77 824.68,577.93 826.00,585.00 C827.32,592.07 828.97,603.50 830.30,613.00 C831.63,622.50 832.82,633.50 834.00,642.00 C835.18,650.50 836.23,658.50 837.40,664.00 C838.57,669.50 839.83,672.33 841.00,675.00 C842.17,677.67 842.57,678.83 844.40,680.00 C846.23,681.17 846.83,681.63 852.00,682.00 C857.17,682.37 871.50,682.17 875.40,682.20" fill="none" stroke="#8a93c8" stroke-width="2.2" stroke-linejoin="round"/>
<path d="M524.20,682.20 C526.17,682.17 533.43,682.12 536.00,682.00 C538.57,681.88 538.00,682.38 539.60,681.50 C541.20,680.62 543.58,679.80 545.60,676.70 C547.62,673.60 549.53,666.22 551.70,662.90 C553.87,659.58 556.43,656.80 558.60,656.80 C560.77,656.80 562.83,659.87 564.70,662.90 C566.57,665.93 568.00,672.27 569.80,675.00 C571.60,677.73 573.33,679.30 575.50,679.30 C577.67,679.30 580.43,676.87 582.80,675.00 C585.17,673.13 587.25,669.90 589.70,668.10 C592.15,666.30 595.12,664.95 597.50,664.20 C599.88,663.45 601.83,663.68 604.00,663.60 C606.17,663.52 608.55,663.75 610.50,663.70 C612.45,663.65 612.82,664.17 615.70,663.30 C618.58,662.43 623.08,660.23 627.80,658.50 C632.52,656.77 639.55,654.40 644.00,652.90 C648.45,651.40 648.40,652.02 654.50,649.50 C660.60,646.98 672.35,641.27 680.60,637.80 C688.85,634.33 698.92,630.57 704.00,628.70 C709.08,626.83 707.18,627.35 711.10,626.60 C715.02,625.85 723.52,624.97 727.50,624.20 C731.48,623.43 732.28,622.95 735.00,622.00 C737.72,621.05 740.97,618.67 743.80,618.50 C746.63,618.33 749.47,620.03 752.00,621.00 C754.53,621.97 756.83,624.47 759.00,624.30 C761.17,624.13 762.78,622.83 765.00,620.00 C767.22,617.17 769.97,612.63 772.30,607.30 C774.63,601.97 776.80,592.77 779.00,588.00 C781.20,583.23 783.50,578.70 785.50,578.70 C787.50,578.70 789.12,582.57 791.00,588.00 C792.88,593.43 795.13,603.13 796.80,611.30 C798.47,619.47 799.47,629.52 801.00,637.00 C802.53,644.48 804.50,656.03 806.00,656.20 C807.50,656.37 808.90,645.20 810.00,638.00 C811.10,630.80 811.77,621.83 812.60,613.00 C813.43,604.17 814.27,593.83 815.00,585.00 C815.73,576.17 816.47,568.17 817.00,560.00 C817.53,551.83 817.62,547.67 818.20,536.00 C818.78,524.33 819.62,505.00 820.50,490.00 C821.38,475.00 822.50,446.00 823.50,446.00 C824.50,446.00 825.50,475.00 826.50,490.00 C827.50,505.00 828.72,524.33 829.50,536.00 C830.28,547.67 830.62,550.17 831.20,560.00 C831.78,569.83 832.27,583.23 833.00,595.00 C833.73,606.77 834.77,620.60 835.60,630.60 C836.43,640.60 837.12,648.53 838.00,655.00 C838.88,661.47 839.97,665.73 840.90,669.40 C841.83,673.07 842.72,675.08 843.60,677.00 C844.48,678.92 844.80,680.07 846.20,680.90 C847.60,681.73 847.13,681.78 852.00,682.00 C856.87,682.22 871.50,682.17 875.40,682.20" fill="none" stroke="#3a4690" stroke-width="2.2" stroke-linejoin="round"/>
<rect x="524.30" y="408.70" width="351.10" height="273.50" fill="none" stroke="#050505" stroke-width="1.5"/>
<line x1="524.30" y1="682.20" x2="524.30" y2="687.20" stroke="#050505" stroke-width="1.5"/>
<text transform="translate(524.30 706.00) scale(1.075 1)" font-size="18" stroke="#000" stroke-width="0.15" text-anchor="middle" fill="#000">1E-7</text>
<line x1="568.19" y1="682.20" x2="568.19" y2="687.20" stroke="#050505" stroke-width="1.5"/>
<text transform="translate(568.19 706.00) scale(1.075 1)" font-size="18" stroke="#000" stroke-width="0.15" text-anchor="middle" fill="#000">1E-6</text>
<line x1="612.07" y1="682.20" x2="612.07" y2="687.20" stroke="#050505" stroke-width="1.5"/>
<text transform="translate(612.07 706.00) scale(1.075 1)" font-size="18" stroke="#000" stroke-width="0.15" text-anchor="middle" fill="#000">1E-5</text>
<line x1="655.96" y1="682.20" x2="655.96" y2="687.20" stroke="#050505" stroke-width="1.5"/>
<text transform="translate(655.96 706.00) scale(1.075 1)" font-size="18" stroke="#000" stroke-width="0.15" text-anchor="middle" fill="#000">1E-4</text>
<line x1="699.85" y1="682.20" x2="699.85" y2="687.20" stroke="#050505" stroke-width="1.5"/>
<text transform="translate(699.85 706.00) scale(1.075 1)" font-size="18" stroke="#000" stroke-width="0.15" text-anchor="middle" fill="#000">0.001</text>
<line x1="743.74" y1="682.20" x2="743.74" y2="687.20" stroke="#050505" stroke-width="1.5"/>
<text transform="translate(743.74 706.00) scale(1.075 1)" font-size="18" stroke="#000" stroke-width="0.15" text-anchor="middle" fill="#000">0.01</text>
<line x1="787.62" y1="682.20" x2="787.62" y2="687.20" stroke="#050505" stroke-width="1.5"/>
<text transform="translate(787.62 706.00) scale(1.075 1)" font-size="18" stroke="#000" stroke-width="0.15" text-anchor="middle" fill="#000">0.1</text>
<line x1="831.51" y1="682.20" x2="831.51" y2="687.20" stroke="#050505" stroke-width="1.5"/>
<text transform="translate(831.51 706.00) scale(1.075 1)" font-size="18" stroke="#000" stroke-width="0.15" text-anchor="middle" fill="#000">1</text>
<line x1="875.40" y1="682.20" x2="875.40" y2="687.20" stroke="#050505" stroke-width="1.5"/>
<text transform="translate(875.40 706.00) scale(1.075 1)" font-size="18" stroke="#000" stroke-width="0.15" text-anchor="middle" fill="#000">10</text>
<line x1="519.30" y1="408.70" x2="524.30" y2="408.70" stroke="#050505" stroke-width="1.5"/>
<text transform="translate(514.30 414.70) scale(1.075 1)" font-size="18" stroke="#000" stroke-width="0.15" text-anchor="end" fill="#000">150</text>
<line x1="519.30" y1="463.40" x2="524.30" y2="463.40" stroke="#050505" stroke-width="1.5"/>
<text transform="translate(514.30 469.40) scale(1.075 1)" font-size="18" stroke="#000" stroke-width="0.15" text-anchor="end" fill="#000">120</text>
<line x1="519.30" y1="518.10" x2="524.30" y2="518.10" stroke="#050505" stroke-width="1.5"/>
<text transform="translate(514.30 524.10) scale(1.075 1)" font-size="18" stroke="#000" stroke-width="0.15" text-anchor="end" fill="#000">90</text>
<line x1="519.30" y1="572.80" x2="524.30" y2="572.80" stroke="#050505" stroke-width="1.5"/>
<text transform="translate(514.30 578.80) scale(1.075 1)" font-size="18" stroke="#000" stroke-width="0.15" text-anchor="end" fill="#000">60</text>
<line x1="519.30" y1="627.50" x2="524.30" y2="627.50" stroke="#050505" stroke-width="1.5"/>
<text transform="translate(514.30 633.50) scale(1.075 1)" font-size="18" stroke="#000" stroke-width="0.15" text-anchor="end" fill="#000">30</text>
<line x1="519.30" y1="682.20" x2="524.30" y2="682.20" stroke="#050505" stroke-width="1.5"/>
<text transform="translate(514.30 688.20) scale(1.075 1)" font-size="18" stroke="#000" stroke-width="0.15" text-anchor="end" fill="#000">0</text>
<text transform="translate(478.00 546.00) scale(1.075 1) rotate(-90)" font-size="21.8" stroke="#000" stroke-width="0.15" text-anchor="middle" fill="#000"><tspan font-weight="bold">γ</tspan><tspan font-size="14" font-weight="bold" dy="3.5">(τ)</tspan><tspan font-weight="bold" dy="-3.5">(ohm)</tspan></text>
<text transform="translate(699.50 723.40) scale(1.075 1)" font-size="21.8" stroke="#000" stroke-width="0.15" text-anchor="middle" fill="#000"><tspan font-weight="bold">τ</tspan> (<tspan font-weight="bold">s</tspan>)</text>
<text transform="translate(553.60 430.10) scale(1.075 1)" font-size="18.5" stroke="#3d4a94" stroke-width="0.15" text-anchor="middle" fill="#3d4a94">NCM</text>
<line x1="528.90" y1="449.40" x2="575.70" y2="449.40" stroke="#b3b9de" stroke-width="2.0"/>
<text transform="translate(580.40 456.60) scale(1.075 1)" font-size="18.5" stroke="#000" stroke-width="0.15" text-anchor="start" fill="#000">1<tspan font-size="13.5" dy="-7.5">st</tspan><tspan dy="7.5"> cycle</tspan></text>
<line x1="528.90" y1="476.80" x2="575.70" y2="476.80" stroke="#8a93c8" stroke-width="2.0"/>
<text transform="translate(580.40 483.20) scale(1.075 1)" font-size="18.5" stroke="#000" stroke-width="0.15" text-anchor="start" fill="#000">100<tspan font-size="13.5" dy="-7.5">th</tspan><tspan dy="7.5"> cycle</tspan></text>
<line x1="528.90" y1="503.40" x2="575.70" y2="503.40" stroke="#3a4690" stroke-width="2.0"/>
<text transform="translate(580.40 509.60) scale(1.075 1)" font-size="18.5" stroke="#000" stroke-width="0.15" text-anchor="start" fill="#000">200<tspan font-size="13.5" dy="-7.5">th</tspan><tspan dy="7.5"> cycle</tspan></text>
<text transform="translate(562.10 651.10) scale(1.075 1)" font-size="18.5" stroke="#000" stroke-width="0.15" text-anchor="middle" fill="#000">CEI/SEI</text>
<text transform="translate(732.00 564.90) scale(1.075 1)" font-size="18.5" stroke="#000" stroke-width="0.15" text-anchor="middle" fill="#000">Charge transfer</text>
<text transform="translate(830.60 436.00) scale(1.075 1)" font-size="20.5" stroke="#000" stroke-width="0.15" text-anchor="middle" fill="#000">Diffusion</text>
<text transform="translate(906.00 393.20) scale(1.075 1)" font-size="26.5" stroke="#000" stroke-width="0.15" text-anchor="start" fill="#000">(f)</text>
<rect x="1104.40" y="616.20" width="149.60" height="65.80" fill="#fde9e7"/>
<rect x="986.10" y="656.10" width="38.20" height="25.90" fill="#f8d6d2"/>
<rect x="1253.80" y="570.10" width="38.10" height="111.90" fill="#f7d3cf"/>
<path d="M973.80,682.00 C976.17,681.83 984.47,682.08 988.00,681.00 C991.53,679.92 992.75,677.43 995.00,675.50 C997.25,673.57 999.33,669.82 1001.50,669.40 C1003.67,668.98 1005.58,671.32 1008.00,673.00 C1010.42,674.68 1013.17,678.17 1016.00,679.50 C1018.83,680.83 1021.83,681.17 1025.00,681.00 C1028.17,680.83 1031.00,679.67 1035.00,678.50 C1039.00,677.33 1042.70,674.50 1049.00,674.00 C1055.30,673.50 1065.30,675.83 1072.80,675.50 C1080.30,675.17 1083.97,673.15 1094.00,672.00 C1104.03,670.85 1122.00,670.10 1133.00,668.60 C1144.00,667.10 1150.00,664.90 1160.00,663.00 C1170.00,661.10 1184.55,658.03 1193.00,657.20 C1201.45,656.37 1205.87,659.03 1210.70,658.00 C1215.53,656.97 1218.62,652.90 1222.00,651.00 C1225.38,649.10 1228.00,646.43 1231.00,646.60 C1234.00,646.77 1237.17,649.43 1240.00,652.00 C1242.83,654.57 1245.45,659.28 1248.00,662.00 C1250.55,664.72 1252.97,670.30 1255.30,668.30 C1257.63,666.30 1260.22,655.55 1262.00,650.00 C1263.78,644.45 1264.58,639.08 1266.00,635.00 C1267.42,630.92 1269.00,625.50 1270.50,625.50 C1272.00,625.50 1273.42,629.58 1275.00,635.00 C1276.58,640.42 1278.33,651.50 1280.00,658.00 C1281.67,664.50 1283.00,670.17 1285.00,674.00 C1287.00,677.83 1285.55,679.67 1292.00,681.00 C1298.45,682.33 1318.42,681.83 1323.70,682.00" fill="none" stroke="#f5c1b8" stroke-width="2.2" stroke-linejoin="round"/>
<path d="M973.80,682.00 C976.17,681.92 984.47,682.50 988.00,681.50 C991.53,680.50 992.43,678.08 995.00,676.00 C997.57,673.92 1000.90,669.50 1003.40,669.00 C1005.90,668.50 1007.57,671.17 1010.00,673.00 C1012.43,674.83 1015.50,678.67 1018.00,680.00 C1020.50,681.33 1022.17,681.33 1025.00,681.00 C1027.83,680.67 1031.00,679.30 1035.00,678.00 C1039.00,676.70 1044.83,673.87 1049.00,673.20 C1053.17,672.53 1056.03,673.68 1060.00,674.00 C1063.97,674.32 1069.47,674.97 1072.80,675.10 C1076.13,675.23 1076.47,675.40 1080.00,674.80 C1083.53,674.20 1089.00,672.38 1094.00,671.50 C1099.00,670.62 1103.50,670.12 1110.00,669.50 C1116.50,668.88 1124.67,669.38 1133.00,667.80 C1141.33,666.22 1150.00,662.65 1160.00,660.00 C1170.00,657.35 1186.00,652.90 1193.00,651.90 C1200.00,650.90 1199.05,653.27 1202.00,654.00 C1204.95,654.73 1207.37,657.80 1210.70,656.30 C1214.03,654.80 1218.17,648.33 1222.00,645.00 C1225.83,641.67 1230.70,636.80 1233.70,636.30 C1236.70,635.80 1237.78,638.38 1240.00,642.00 C1242.22,645.62 1244.45,653.45 1247.00,658.00 C1249.55,662.55 1253.13,668.97 1255.30,669.30 C1257.47,669.63 1258.38,665.72 1260.00,660.00 C1261.62,654.28 1262.90,645.00 1265.00,635.00 C1267.10,625.00 1270.60,602.50 1272.60,600.00 C1274.60,597.50 1275.65,611.00 1277.00,620.00 C1278.35,629.00 1279.53,645.67 1280.70,654.00 C1281.87,662.33 1282.78,665.92 1284.00,670.00 C1285.22,674.08 1286.17,676.58 1288.00,678.50 C1289.83,680.42 1289.05,680.92 1295.00,681.50 C1300.95,682.08 1318.92,681.92 1323.70,682.00" fill="none" stroke="#eb8474" stroke-width="2.2" stroke-linejoin="round"/>
<path d="M973.80,682.00 C976.52,681.97 986.27,682.32 990.10,681.80 C993.93,681.28 994.65,680.37 996.80,678.90 C998.95,677.43 1000.95,674.58 1003.00,673.00 C1005.05,671.42 1006.97,669.37 1009.10,669.40 C1011.23,669.43 1013.42,671.45 1015.80,673.20 C1018.18,674.95 1021.35,678.70 1023.40,679.90 C1025.45,681.10 1026.50,680.63 1028.10,680.40 C1029.70,680.17 1031.10,679.38 1033.00,678.50 C1034.90,677.62 1036.83,676.22 1039.50,675.10 C1042.17,673.98 1045.82,671.95 1049.00,671.80 C1052.18,671.65 1055.77,673.42 1058.60,674.20 C1061.43,674.98 1063.63,676.03 1066.00,676.50 C1068.37,676.97 1070.08,676.98 1072.80,677.00 C1075.52,677.02 1078.77,677.85 1082.30,676.60 C1085.83,675.35 1091.05,671.10 1094.00,669.50 C1096.95,667.90 1097.33,667.58 1100.00,667.00 C1102.67,666.42 1107.00,666.08 1110.00,666.00 C1113.00,665.92 1115.33,666.35 1118.00,666.50 C1120.67,666.65 1122.92,667.28 1126.00,666.90 C1129.08,666.52 1130.92,666.27 1136.50,664.20 C1142.08,662.13 1151.25,657.43 1159.50,654.50 C1167.75,651.57 1178.63,648.67 1186.00,646.60 C1193.37,644.53 1198.98,643.87 1203.70,642.10 C1208.42,640.33 1211.25,638.52 1214.30,636.00 C1217.35,633.48 1219.50,629.22 1222.00,627.00 C1224.50,624.78 1227.13,622.87 1229.30,622.70 C1231.47,622.53 1233.38,624.67 1235.00,626.00 C1236.62,627.33 1237.50,628.03 1239.00,630.70 C1240.50,633.37 1242.08,638.45 1244.00,642.00 C1245.92,645.55 1248.45,651.83 1250.50,652.00 C1252.55,652.17 1254.45,649.12 1256.30,643.00 C1258.15,636.88 1259.93,624.13 1261.60,615.30 C1263.27,606.47 1264.53,596.62 1266.30,590.00 C1268.07,583.38 1270.58,575.93 1272.20,575.60 C1273.82,575.27 1274.92,582.40 1276.00,588.00 C1277.08,593.60 1277.87,602.20 1278.70,609.20 C1279.53,616.20 1280.15,622.53 1281.00,630.00 C1281.85,637.47 1282.97,647.67 1283.80,654.00 C1284.63,660.33 1285.15,664.10 1286.00,668.00 C1286.85,671.90 1287.73,675.32 1288.90,677.40 C1290.07,679.48 1291.15,679.73 1293.00,680.50 C1294.85,681.27 1294.88,681.75 1300.00,682.00 C1305.12,682.25 1319.75,682.00 1323.70,682.00" fill="none" stroke="#cf3322" stroke-width="2.2" stroke-linejoin="round"/>
<rect x="973.70" y="408.90" width="350.00" height="273.10" fill="none" stroke="#2c2c2c" stroke-width="1.8"/>
<line x1="973.70" y1="682.00" x2="973.70" y2="687.00" stroke="#2c2c2c" stroke-width="1.8"/>
<text transform="translate(973.70 706.00) scale(1.075 1)" font-size="18" stroke="#000" stroke-width="0.15" text-anchor="middle" fill="#000">1E-7</text>
<line x1="1017.45" y1="682.00" x2="1017.45" y2="687.00" stroke="#2c2c2c" stroke-width="1.8"/>
<text transform="translate(1017.45 706.00) scale(1.075 1)" font-size="18" stroke="#000" stroke-width="0.15" text-anchor="middle" fill="#000">1E-6</text>
<line x1="1061.20" y1="682.00" x2="1061.20" y2="687.00" stroke="#2c2c2c" stroke-width="1.8"/>
<text transform="translate(1061.20 706.00) scale(1.075 1)" font-size="18" stroke="#000" stroke-width="0.15" text-anchor="middle" fill="#000">1E-5</text>
<line x1="1104.95" y1="682.00" x2="1104.95" y2="687.00" stroke="#2c2c2c" stroke-width="1.8"/>
<text transform="translate(1104.95 706.00) scale(1.075 1)" font-size="18" stroke="#000" stroke-width="0.15" text-anchor="middle" fill="#000">1E-4</text>
<line x1="1148.70" y1="682.00" x2="1148.70" y2="687.00" stroke="#2c2c2c" stroke-width="1.8"/>
<text transform="translate(1148.70 706.00) scale(1.075 1)" font-size="18" stroke="#000" stroke-width="0.15" text-anchor="middle" fill="#000">0.001</text>
<line x1="1192.45" y1="682.00" x2="1192.45" y2="687.00" stroke="#2c2c2c" stroke-width="1.8"/>
<text transform="translate(1192.45 706.00) scale(1.075 1)" font-size="18" stroke="#000" stroke-width="0.15" text-anchor="middle" fill="#000">0.01</text>
<line x1="1236.20" y1="682.00" x2="1236.20" y2="687.00" stroke="#2c2c2c" stroke-width="1.8"/>
<text transform="translate(1236.20 706.00) scale(1.075 1)" font-size="18" stroke="#000" stroke-width="0.15" text-anchor="middle" fill="#000">0.1</text>
<line x1="1279.95" y1="682.00" x2="1279.95" y2="687.00" stroke="#2c2c2c" stroke-width="1.8"/>
<text transform="translate(1279.95 706.00) scale(1.075 1)" font-size="18" stroke="#000" stroke-width="0.15" text-anchor="middle" fill="#000">1</text>
<line x1="1323.70" y1="682.00" x2="1323.70" y2="687.00" stroke="#2c2c2c" stroke-width="1.8"/>
<text transform="translate(1323.70 706.00) scale(1.075 1)" font-size="18" stroke="#000" stroke-width="0.15" text-anchor="middle" fill="#000">10</text>
<line x1="968.70" y1="408.90" x2="973.70" y2="408.90" stroke="#2c2c2c" stroke-width="1.8"/>
<text transform="translate(963.70 414.90) scale(1.075 1)" font-size="18" stroke="#000" stroke-width="0.15" text-anchor="end" fill="#000">150</text>
<line x1="968.70" y1="463.52" x2="973.70" y2="463.52" stroke="#2c2c2c" stroke-width="1.8"/>
<text transform="translate(963.70 469.52) scale(1.075 1)" font-size="18" stroke="#000" stroke-width="0.15" text-anchor="end" fill="#000">120</text>
<line x1="968.70" y1="518.14" x2="973.70" y2="518.14" stroke="#2c2c2c" stroke-width="1.8"/>
<text transform="translate(963.70 524.14) scale(1.075 1)" font-size="18" stroke="#000" stroke-width="0.15" text-anchor="end" fill="#000">90</text>
<line x1="968.70" y1="572.76" x2="973.70" y2="572.76" stroke="#2c2c2c" stroke-width="1.8"/>
<text transform="translate(963.70 578.76) scale(1.075 1)" font-size="18" stroke="#000" stroke-width="0.15" text-anchor="end" fill="#000">60</text>
<line x1="968.70" y1="627.38" x2="973.70" y2="627.38" stroke="#2c2c2c" stroke-width="1.8"/>
<text transform="translate(963.70 633.38) scale(1.075 1)" font-size="18" stroke="#000" stroke-width="0.15" text-anchor="end" fill="#000">30</text>
<line x1="968.70" y1="682.00" x2="973.70" y2="682.00" stroke="#2c2c2c" stroke-width="1.8"/>
<text transform="translate(963.70 688.00) scale(1.075 1)" font-size="18" stroke="#000" stroke-width="0.15" text-anchor="end" fill="#000">0</text>
<text transform="translate(927.40 546.00) scale(1.075 1) rotate(-90)" font-size="21.8" stroke="#000" stroke-width="0.15" text-anchor="middle" fill="#000"><tspan font-weight="bold">γ</tspan><tspan font-size="14" font-weight="bold" dy="3.5">(τ)</tspan><tspan font-weight="bold" dy="-3.5">(ohm)</tspan></text>
<text transform="translate(1148.90 723.40) scale(1.075 1)" font-size="21.8" stroke="#000" stroke-width="0.15" text-anchor="middle" fill="#000"><tspan font-weight="bold">τ</tspan> (<tspan font-weight="bold">s</tspan>)</text>
<text transform="translate(1026.00 428.50) scale(1.075 1)" font-size="18.5" stroke="#ea7a68" stroke-width="0.15" text-anchor="middle" fill="#ea7a68">NCM@PFE</text>
<line x1="979.80" y1="448.80" x2="1027.00" y2="448.80" stroke="#f5c1b8" stroke-width="2.0"/>
<text transform="translate(1031.40 454.60) scale(1.075 1)" font-size="18.5" stroke="#000" stroke-width="0.15" text-anchor="start" fill="#000">1<tspan font-size="13.5" dy="-7.5">st</tspan><tspan dy="7.5"> cycle</tspan></text>
<line x1="979.80" y1="475.70" x2="1027.00" y2="475.70" stroke="#eb8474" stroke-width="2.0"/>
<text transform="translate(1031.40 481.80) scale(1.075 1)" font-size="18.5" stroke="#000" stroke-width="0.15" text-anchor="start" fill="#000">100<tspan font-size="13.5" dy="-7.5">th</tspan><tspan dy="7.5"> cycle</tspan></text>
<line x1="979.80" y1="502.30" x2="1027.00" y2="502.30" stroke="#cf3322" stroke-width="2.0"/>
<text transform="translate(1031.40 508.40) scale(1.075 1)" font-size="18.5" stroke="#000" stroke-width="0.15" text-anchor="start" fill="#000">200<tspan font-size="13.5" dy="-7.5">th</tspan><tspan dy="7.5"> cycle</tspan></text>
<text transform="translate(1010.70 650.60) scale(1.075 1)" font-size="18.5" stroke="#000" stroke-width="0.15" text-anchor="middle" fill="#000">CEI/SEI</text>
<text transform="translate(1183.80 608.60) scale(1.075 1)" font-size="18.5" stroke="#000" stroke-width="0.15" text-anchor="middle" fill="#000">Charge transfer</text>
<text transform="translate(1275.20 563.70) scale(1.075 1)" font-size="20.5" stroke="#000" stroke-width="0.15" text-anchor="middle" fill="#000">Diffusion</text>
</svg>
</body></html>
